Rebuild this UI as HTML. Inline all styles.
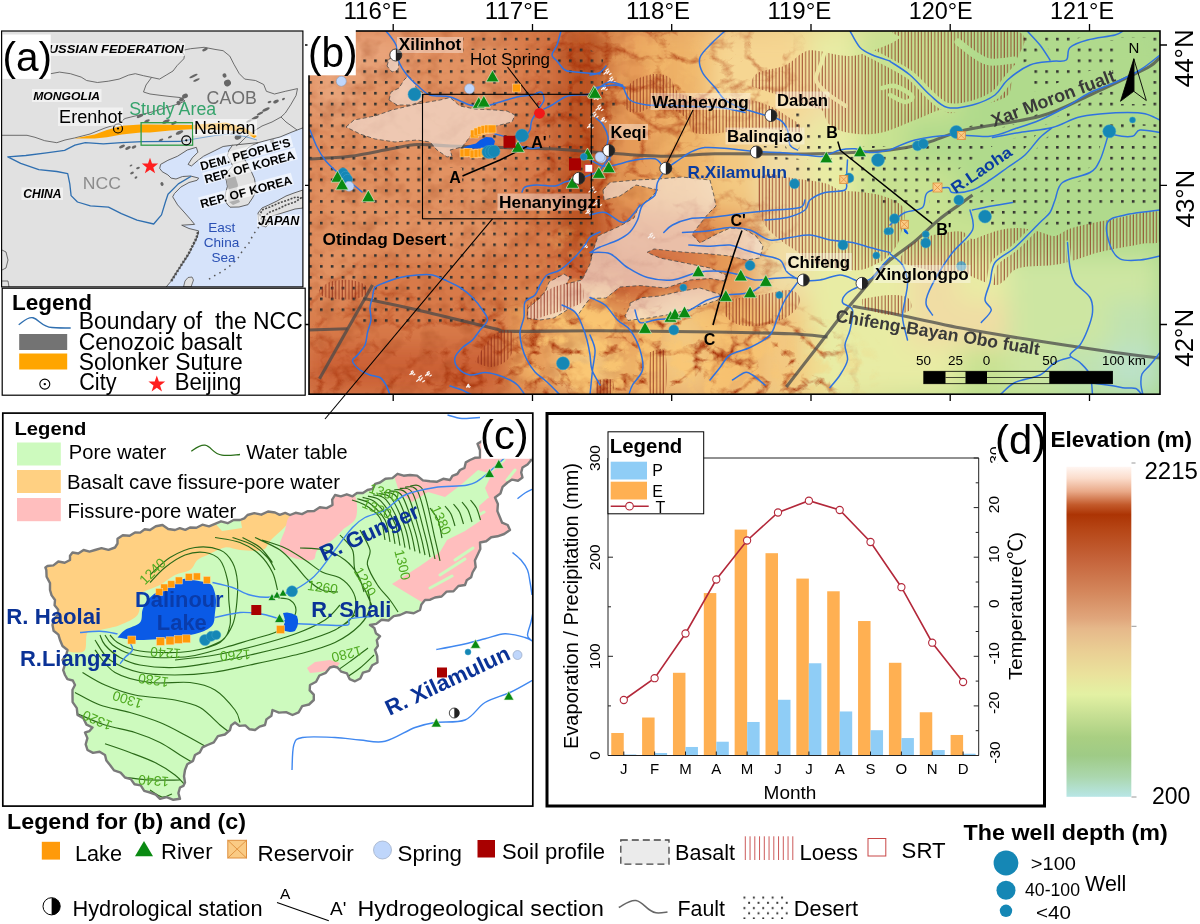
<!DOCTYPE html>
<html lang="en"><head><meta charset="utf-8"><title>Study area map</title>
<style>html,body{margin:0;padding:0;background:#fff}svg{display:block}text{font-family:"Liberation Sans", sans-serif}</style>
</head><body>
<svg width="1200" height="924" viewBox="0 0 1200 924">
<rect width="1200" height="924" fill="#fff"/>
<defs>
<clipPath id="clipB"><rect x="309" y="31" width="851" height="363.2"/></clipPath>
<filter id="blur14" x="-30%" y="-30%" width="160%" height="160%"><feGaussianBlur stdDeviation="12"/></filter>
<filter id="blur6" x="-30%" y="-30%" width="160%" height="160%"><feGaussianBlur stdDeviation="5"/></filter>
<linearGradient id="baseB" x1="0" y1="0" x2="1" y2="0"><stop offset="0" stop-color="#D98252"/><stop offset="0.33" stop-color="#D27643"/><stop offset="0.5" stop-color="#EBBB7C"/><stop offset="0.62" stop-color="#E6DE96"/><stop offset="0.75" stop-color="#B9DE90"/><stop offset="1" stop-color="#AAD88F"/></linearGradient>
<pattern id="hatch" x="0.3" width="3.31" height="8" patternUnits="userSpaceOnUse"><rect x="0.6" y="0" width="0.85" height="8" fill="#8A2412" fill-opacity="0.9"/></pattern>
<pattern id="dotsL" x="320.0" y="37.77" width="10.825" height="10.825" patternUnits="userSpaceOnUse"><rect x="0" y="0" width="2.6" height="2.6" fill="#33322f"/></pattern>
<filter id="relief" x="0" y="0" width="100%" height="100%" color-interpolation-filters="sRGB"><feTurbulence type="turbulence" baseFrequency="0.028 0.034" numOctaves="4" seed="11"/><feColorMatrix type="matrix" values="0 0 0 0 0.66  0 0 0 0 0.21  0 0 0 0 0.05  -4.2 0 0 0 1.12"/></filter>
<filter id="reliefW" x="0" y="0" width="100%" height="100%" color-interpolation-filters="sRGB"><feTurbulence type="turbulence" baseFrequency="0.03 0.036" numOctaves="4" seed="5"/><feColorMatrix type="matrix" values="0 0 0 0 0.98  0 0 0 0 0.78  0 0 0 0 0.45  0 4.5 0 0 -1.1"/></filter>
<filter id="reliefS" x="0" y="0" width="100%" height="100%" color-interpolation-filters="sRGB"><feTurbulence type="fractalNoise" baseFrequency="0.05 0.06" numOctaves="3" seed="2"/><feColorMatrix type="matrix" values="0 0 0 0 0.55  0 0 0 0 0.2  0 0 0 0 0.05  2.2 0 0 0 -1.05"/></filter>
<mask id="maskD" maskUnits="userSpaceOnUse" x="300" y="20" width="880" height="390"><g filter="url(#blur14)"><rect x="300" y="20" width="880" height="390" fill="#000"/>
<ellipse cx="590" cy="140" rx="42" ry="150" fill="rgb(229,229,229)"/>
<ellipse cx="440" cy="365" rx="150" ry="55" fill="rgb(216,216,216)"/>
<ellipse cx="620" cy="355" rx="100" ry="55" fill="rgb(255,255,255)"/>
<ellipse cx="745" cy="368" rx="90" ry="45" fill="rgb(255,255,255)"/>
<ellipse cx="690" cy="250" rx="90" ry="60" fill="rgb(114,114,114)"/>
<ellipse cx="660" cy="75" rx="55" ry="55" fill="rgb(178,178,178)"/>
<ellipse cx="740" cy="70" rx="50" ry="40" fill="rgb(114,114,114)"/>
<ellipse cx="370" cy="330" rx="80" ry="60" fill="rgb(114,114,114)"/>
<ellipse cx="420" cy="170" rx="130" ry="110" fill="rgb(30,30,30)"/>
<ellipse cx="650" cy="150" rx="40" ry="30" fill="rgb(153,153,153)"/>
</g></mask>
<mask id="maskW" maskUnits="userSpaceOnUse" x="300" y="20" width="880" height="390"><g filter="url(#blur14)"><rect x="300" y="20" width="880" height="390" fill="#000"/>
<ellipse cx="600" cy="345" rx="70" ry="50" fill="rgb(229,229,229)"/>
<ellipse cx="700" cy="360" rx="70" ry="40" fill="rgb(178,178,178)"/>
<ellipse cx="660" cy="60" rx="35" ry="40" fill="rgb(89,89,89)"/>
<ellipse cx="560" cy="250" rx="20" ry="40" fill="rgb(76,76,76)"/>
<ellipse cx="820" cy="370" rx="50" ry="30" fill="rgb(76,76,76)"/>
</g></mask>
<mask id="maskS" maskUnits="userSpaceOnUse" x="300" y="20" width="880" height="390"><g filter="url(#blur14)"><rect x="300" y="20" width="880" height="390" fill="#000"/>
<ellipse cx="430" cy="210" rx="170" ry="220" fill="rgb(229,229,229)"/>
<ellipse cx="600" cy="200" rx="60" ry="200" fill="rgb(153,153,153)"/>
</g></mask>
</defs>
<g id="panel-b">
<g clip-path="url(#clipB)">
<rect x="309" y="31" width="851" height="363.2" fill="url(#baseB)"/>
<g filter="url(#blur14)">
<rect x="308.0" y="30.0" width="52.0" height="47.2" fill="#E9A47A"/>
<rect x="358.0" y="30.0" width="52.0" height="47.2" fill="#E9A47A"/>
<rect x="408.0" y="30.0" width="52.0" height="47.2" fill="#E29262"/>
<rect x="458.0" y="30.0" width="52.0" height="47.2" fill="#E29262"/>
<rect x="508.0" y="30.0" width="52.0" height="47.2" fill="#D87A49"/>
<rect x="558.0" y="30.0" width="52.0" height="47.2" fill="#BC5224"/>
<rect x="608.0" y="30.0" width="52.0" height="47.2" fill="#E69B58"/>
<rect x="658.0" y="30.0" width="52.0" height="47.2" fill="#EEB268"/>
<rect x="708.0" y="30.0" width="52.0" height="47.2" fill="#F6D692"/>
<rect x="758.0" y="30.0" width="52.0" height="47.2" fill="#F6D692"/>
<rect x="808.0" y="30.0" width="52.0" height="47.2" fill="#E8ECA4"/>
<rect x="858.0" y="30.0" width="52.0" height="47.2" fill="#C8E292"/>
<rect x="908.0" y="30.0" width="52.0" height="47.2" fill="#C8E292"/>
<rect x="958.0" y="30.0" width="52.0" height="47.2" fill="#B0DA8C"/>
<rect x="1008.0" y="30.0" width="52.0" height="47.2" fill="#B0DA8C"/>
<rect x="1058.0" y="30.0" width="52.0" height="47.2" fill="#B0DA8C"/>
<rect x="1108.0" y="30.0" width="52.0" height="47.2" fill="#B0DA8C"/>
<rect x="308.0" y="75.2" width="52.0" height="47.2" fill="#E9A47A"/>
<rect x="358.0" y="75.2" width="52.0" height="47.2" fill="#E29262"/>
<rect x="408.0" y="75.2" width="52.0" height="47.2" fill="#E29262"/>
<rect x="458.0" y="75.2" width="52.0" height="47.2" fill="#E29262"/>
<rect x="508.0" y="75.2" width="52.0" height="47.2" fill="#D87A49"/>
<rect x="558.0" y="75.2" width="52.0" height="47.2" fill="#BC5224"/>
<rect x="608.0" y="75.2" width="52.0" height="47.2" fill="#E69B58"/>
<rect x="658.0" y="75.2" width="52.0" height="47.2" fill="#EEB268"/>
<rect x="708.0" y="75.2" width="52.0" height="47.2" fill="#F6D692"/>
<rect x="758.0" y="75.2" width="52.0" height="47.2" fill="#F6D692"/>
<rect x="808.0" y="75.2" width="52.0" height="47.2" fill="#F0DDA4"/>
<rect x="858.0" y="75.2" width="52.0" height="47.2" fill="#C8E292"/>
<rect x="908.0" y="75.2" width="52.0" height="47.2" fill="#C8E292"/>
<rect x="958.0" y="75.2" width="52.0" height="47.2" fill="#B0DA8C"/>
<rect x="1008.0" y="75.2" width="52.0" height="47.2" fill="#B0DA8C"/>
<rect x="1058.0" y="75.2" width="52.0" height="47.2" fill="#B0DA8C"/>
<rect x="1108.0" y="75.2" width="52.0" height="47.2" fill="#B0DA8C"/>
<rect x="308.0" y="120.4" width="52.0" height="47.2" fill="#E29262"/>
<rect x="358.0" y="120.4" width="52.0" height="47.2" fill="#E29262"/>
<rect x="408.0" y="120.4" width="52.0" height="47.2" fill="#E29262"/>
<rect x="458.0" y="120.4" width="52.0" height="47.2" fill="#E29262"/>
<rect x="508.0" y="120.4" width="52.0" height="47.2" fill="#D87A49"/>
<rect x="558.0" y="120.4" width="52.0" height="47.2" fill="#BC5224"/>
<rect x="608.0" y="120.4" width="52.0" height="47.2" fill="#E69B58"/>
<rect x="658.0" y="120.4" width="52.0" height="47.2" fill="#EEB268"/>
<rect x="708.0" y="120.4" width="52.0" height="47.2" fill="#F3C880"/>
<rect x="758.0" y="120.4" width="52.0" height="47.2" fill="#F0DDA4"/>
<rect x="808.0" y="120.4" width="52.0" height="47.2" fill="#E8ECA4"/>
<rect x="858.0" y="120.4" width="52.0" height="47.2" fill="#C8E292"/>
<rect x="908.0" y="120.4" width="52.0" height="47.2" fill="#B0DA8C"/>
<rect x="958.0" y="120.4" width="52.0" height="47.2" fill="#B0DA8C"/>
<rect x="1008.0" y="120.4" width="52.0" height="47.2" fill="#B0DA8C"/>
<rect x="1058.0" y="120.4" width="52.0" height="47.2" fill="#B0DA8C"/>
<rect x="1108.0" y="120.4" width="52.0" height="47.2" fill="#B0DA8C"/>
<rect x="308.0" y="165.6" width="52.0" height="47.2" fill="#E29262"/>
<rect x="358.0" y="165.6" width="52.0" height="47.2" fill="#E29262"/>
<rect x="408.0" y="165.6" width="52.0" height="47.2" fill="#E29262"/>
<rect x="458.0" y="165.6" width="52.0" height="47.2" fill="#E29262"/>
<rect x="508.0" y="165.6" width="52.0" height="47.2" fill="#D87A49"/>
<rect x="558.0" y="165.6" width="52.0" height="47.2" fill="#BC5224"/>
<rect x="608.0" y="165.6" width="52.0" height="47.2" fill="#E69B58"/>
<rect x="658.0" y="165.6" width="52.0" height="47.2" fill="#EEB268"/>
<rect x="708.0" y="165.6" width="52.0" height="47.2" fill="#F3C880"/>
<rect x="758.0" y="165.6" width="52.0" height="47.2" fill="#F0DDA4"/>
<rect x="808.0" y="165.6" width="52.0" height="47.2" fill="#E8ECA4"/>
<rect x="858.0" y="165.6" width="52.0" height="47.2" fill="#C8E292"/>
<rect x="908.0" y="165.6" width="52.0" height="47.2" fill="#C8E292"/>
<rect x="958.0" y="165.6" width="52.0" height="47.2" fill="#B0DA8C"/>
<rect x="1008.0" y="165.6" width="52.0" height="47.2" fill="#B0DA8C"/>
<rect x="1058.0" y="165.6" width="52.0" height="47.2" fill="#B0DA8C"/>
<rect x="1108.0" y="165.6" width="52.0" height="47.2" fill="#B0DA8C"/>
<rect x="308.0" y="210.8" width="52.0" height="47.2" fill="#E29262"/>
<rect x="358.0" y="210.8" width="52.0" height="47.2" fill="#E29262"/>
<rect x="408.0" y="210.8" width="52.0" height="47.2" fill="#E29262"/>
<rect x="458.0" y="210.8" width="52.0" height="47.2" fill="#E29262"/>
<rect x="508.0" y="210.8" width="52.0" height="47.2" fill="#D87A49"/>
<rect x="558.0" y="210.8" width="52.0" height="47.2" fill="#BC5224"/>
<rect x="608.0" y="210.8" width="52.0" height="47.2" fill="#D87A49"/>
<rect x="658.0" y="210.8" width="52.0" height="47.2" fill="#D87A49"/>
<rect x="708.0" y="210.8" width="52.0" height="47.2" fill="#E69B58"/>
<rect x="758.0" y="210.8" width="52.0" height="47.2" fill="#F0DDA4"/>
<rect x="808.0" y="210.8" width="52.0" height="47.2" fill="#E8ECA4"/>
<rect x="858.0" y="210.8" width="52.0" height="47.2" fill="#C8E292"/>
<rect x="908.0" y="210.8" width="52.0" height="47.2" fill="#C8E292"/>
<rect x="958.0" y="210.8" width="52.0" height="47.2" fill="#C8E292"/>
<rect x="1008.0" y="210.8" width="52.0" height="47.2" fill="#B0DA8C"/>
<rect x="1058.0" y="210.8" width="52.0" height="47.2" fill="#B0DA8C"/>
<rect x="1108.0" y="210.8" width="52.0" height="47.2" fill="#B0DA8C"/>
<rect x="308.0" y="256.0" width="52.0" height="47.2" fill="#E29262"/>
<rect x="358.0" y="256.0" width="52.0" height="47.2" fill="#D87A49"/>
<rect x="408.0" y="256.0" width="52.0" height="47.2" fill="#D87A49"/>
<rect x="458.0" y="256.0" width="52.0" height="47.2" fill="#D87A49"/>
<rect x="508.0" y="256.0" width="52.0" height="47.2" fill="#D87A49"/>
<rect x="558.0" y="256.0" width="52.0" height="47.2" fill="#CB6034"/>
<rect x="608.0" y="256.0" width="52.0" height="47.2" fill="#CB6034"/>
<rect x="658.0" y="256.0" width="52.0" height="47.2" fill="#D87A49"/>
<rect x="708.0" y="256.0" width="52.0" height="47.2" fill="#E69B58"/>
<rect x="758.0" y="256.0" width="52.0" height="47.2" fill="#F0DDA4"/>
<rect x="808.0" y="256.0" width="52.0" height="47.2" fill="#E8ECA4"/>
<rect x="858.0" y="256.0" width="52.0" height="47.2" fill="#E8ECA4"/>
<rect x="908.0" y="256.0" width="52.0" height="47.2" fill="#F0DDA4"/>
<rect x="958.0" y="256.0" width="52.0" height="47.2" fill="#E8ECA4"/>
<rect x="1008.0" y="256.0" width="52.0" height="47.2" fill="#CDE6A2"/>
<rect x="1058.0" y="256.0" width="52.0" height="47.2" fill="#CDE6A2"/>
<rect x="1108.0" y="256.0" width="52.0" height="47.2" fill="#CDE6A2"/>
<rect x="308.0" y="301.2" width="52.0" height="47.2" fill="#D87A49"/>
<rect x="358.0" y="301.2" width="52.0" height="47.2" fill="#D87A49"/>
<rect x="408.0" y="301.2" width="52.0" height="47.2" fill="#D87A49"/>
<rect x="458.0" y="301.2" width="52.0" height="47.2" fill="#D87A49"/>
<rect x="508.0" y="301.2" width="52.0" height="47.2" fill="#E69B58"/>
<rect x="558.0" y="301.2" width="52.0" height="47.2" fill="#EEB268"/>
<rect x="608.0" y="301.2" width="52.0" height="47.2" fill="#E69B58"/>
<rect x="658.0" y="301.2" width="52.0" height="47.2" fill="#F3C880"/>
<rect x="708.0" y="301.2" width="52.0" height="47.2" fill="#EEB268"/>
<rect x="758.0" y="301.2" width="52.0" height="47.2" fill="#F3C880"/>
<rect x="808.0" y="301.2" width="52.0" height="47.2" fill="#E8ECA4"/>
<rect x="858.0" y="301.2" width="52.0" height="47.2" fill="#E8ECA4"/>
<rect x="908.0" y="301.2" width="52.0" height="47.2" fill="#F0DDA4"/>
<rect x="958.0" y="301.2" width="52.0" height="47.2" fill="#F0DDA4"/>
<rect x="1008.0" y="301.2" width="52.0" height="47.2" fill="#CDE6A2"/>
<rect x="1058.0" y="301.2" width="52.0" height="47.2" fill="#CDE6A2"/>
<rect x="1108.0" y="301.2" width="52.0" height="47.2" fill="#C0E2B0"/>
<rect x="308.0" y="346.4" width="52.0" height="47.2" fill="#CB6034"/>
<rect x="358.0" y="346.4" width="52.0" height="47.2" fill="#CB6034"/>
<rect x="408.0" y="346.4" width="52.0" height="47.2" fill="#CB6034"/>
<rect x="458.0" y="346.4" width="52.0" height="47.2" fill="#CB6034"/>
<rect x="508.0" y="346.4" width="52.0" height="47.2" fill="#E69B58"/>
<rect x="558.0" y="346.4" width="52.0" height="47.2" fill="#F3C880"/>
<rect x="608.0" y="346.4" width="52.0" height="47.2" fill="#EEB268"/>
<rect x="658.0" y="346.4" width="52.0" height="47.2" fill="#F3C880"/>
<rect x="708.0" y="346.4" width="52.0" height="47.2" fill="#EEB268"/>
<rect x="758.0" y="346.4" width="52.0" height="47.2" fill="#F3C880"/>
<rect x="808.0" y="346.4" width="52.0" height="47.2" fill="#E8ECA4"/>
<rect x="858.0" y="346.4" width="52.0" height="47.2" fill="#E8ECA4"/>
<rect x="908.0" y="346.4" width="52.0" height="47.2" fill="#E8ECA4"/>
<rect x="958.0" y="346.4" width="52.0" height="47.2" fill="#C8E292"/>
<rect x="1008.0" y="346.4" width="52.0" height="47.2" fill="#CDE6A2"/>
<rect x="1058.0" y="346.4" width="52.0" height="47.2" fill="#C0E2B0"/>
<rect x="1108.0" y="346.4" width="52.0" height="47.2" fill="#BCE2C8"/>
</g>
<g filter="url(#blur6)">
</g>
<rect x="309" y="31" width="851" height="363.2" filter="url(#reliefS)" opacity="0.35" mask="url(#maskS)"/>
<g mask="url(#maskD)"><rect x="309" y="31" width="851" height="363.2" filter="url(#relief)"/></g>
<g mask="url(#maskW)"><rect x="309" y="31" width="851" height="363.2" filter="url(#reliefW)"/></g>
<g fill="none" stroke="#fff" stroke-opacity="0.92" stroke-width="1.3" stroke-linecap="round">
<path d="M604.0 74.0l2.5 -2.2M607.0 73.5l2.0 -2.5M606.0 70.5l2.2 -1.5M609.5 74.5l1.5 -1.0M608.0 82.0l2.5 -2.2M611.0 81.5l2.0 -2.5M610.0 78.5l2.2 -1.5M613.5 82.5l1.5 -1.0M601.6 89.6l2.0 -1.8M604.0 89.2l1.6 -2.0M603.2 86.8l1.8 -1.2M606.0 90.0l1.2 -0.8M596.0 110.0l2.5 -2.2M599.0 109.5l2.0 -2.5M598.0 106.5l2.2 -1.5M601.5 110.5l1.5 -1.0M591.0 117.0l2.5 -2.2M594.0 116.5l2.0 -2.5M593.0 113.5l2.2 -1.5M596.5 117.5l1.5 -1.0M600.6 121.6l2.0 -1.8M603.0 121.2l1.6 -2.0M602.2 118.8l1.8 -1.2M605.0 122.0l1.2 -0.8M587.6 127.6l2.0 -1.8M590.0 127.2l1.6 -2.0M589.2 124.8l1.8 -1.2M592.0 128.0l1.2 -0.8M594.2 99.2l1.5 -1.3M596.0 98.9l1.2 -1.5M595.4 97.1l1.3 -0.9M597.5 99.5l0.9 -0.6M589.0 192.0l2.5 -2.2M592.0 191.5l2.0 -2.5M591.0 188.5l2.2 -1.5M594.5 192.5l1.5 -1.0M593.7 205.2l2.8 -2.4M597.0 204.7l2.2 -2.8M595.9 201.3l2.4 -1.7M599.8 205.8l1.7 -1.1M585.9 213.4l1.8 -1.5M588.0 213.1l1.4 -1.8M587.3 210.9l1.5 -1.0M589.8 213.8l1.0 -0.7M583.2 247.2l1.5 -1.3M585.0 246.9l1.2 -1.5M584.4 245.1l1.3 -0.9M586.5 247.5l0.9 -0.6M416.7 381.2l2.8 -2.4M420.0 380.6l2.2 -2.8M418.9 377.4l2.4 -1.7M422.8 381.8l1.7 -1.1M425.6 375.6l2.0 -1.8M428.0 375.2l1.6 -2.0M427.2 372.8l1.8 -1.2M430.0 376.0l1.2 -0.8M409.9 374.4l1.8 -1.5M412.0 374.1l1.4 -1.8M411.3 371.9l1.5 -1.0M413.8 374.8l1.0 -0.7M648.3 237.8l2.2 -2.0M651.0 237.3l1.8 -2.2M650.1 234.7l2.0 -1.4M653.2 238.2l1.4 -0.9M466.5 387.0l1.2 -1.1M468.0 386.8l1.0 -1.2M467.5 385.2l1.1 -0.8M469.2 387.2l0.8 -0.5"/>
</g>
<mask id="noBasalt" maskUnits="userSpaceOnUse" x="300" y="20" width="880" height="390"><rect x="300" y="20" width="880" height="390" fill="#fff"/>
<polygon points="346.0,127.0 354.0,120.0 375.0,116.0 392.0,110.0 417.0,104.0 440.0,100.0 450.0,97.5 460.0,106.0 475.0,109.0 495.0,110.0 507.0,111.0 515.0,115.0 512.0,122.0 500.0,125.0 492.0,127.0 485.0,130.0 472.0,134.0 466.0,142.0 462.0,147.0 450.0,150.0 452.0,156.0 447.0,157.0 437.0,150.0 430.0,142.0 417.0,140.0 395.0,142.0 375.0,139.0 360.0,134.0" fill="#000"/>
<polygon points="389.0,100.0 391.0,92.0 399.0,88.0 404.0,80.0 408.0,76.0 413.0,80.0 417.0,90.0 424.0,93.0 422.0,101.0 411.0,105.0 397.0,105.0" fill="#000"/>
<polygon points="387.0,66.0 389.0,59.0 394.0,57.0 399.0,62.0 398.0,70.0 392.0,72.0" fill="#000"/>
<polygon points="603.0,190.0 610.0,182.4 636.0,180.0 658.0,179.0 682.0,177.0 710.0,180.0 714.0,196.0 716.0,206.0 708.0,214.0 700.0,224.0 692.0,234.4 700.0,243.0 716.0,234.4 730.0,228.0 744.0,229.0 756.0,236.0 763.0,246.0 760.0,258.0 746.0,260.0 730.0,256.0 710.0,254.0 682.0,252.0 654.0,249.0 647.0,252.4 660.0,258.0 690.0,264.0 710.0,268.0 726.0,275.0 724.0,281.0 710.0,278.4 690.0,280.0 666.0,288.0 640.0,285.6 620.0,287.0 606.0,298.0 590.0,298.4 584.0,306.0 578.0,315.0 570.0,308.0 564.0,312.0 554.0,318.0 540.0,320.0 527.0,318.0 528.0,308.0 540.0,298.0 546.0,290.0 549.0,282.0 564.0,274.0 570.0,278.0 566.0,284.0 582.0,280.0 590.0,264.0 594.0,248.0 598.0,236.0 620.0,226.0 634.0,218.0 638.0,208.0 650.0,198.0 658.0,190.0 636.0,185.0 620.0,196.0 604.0,200.0" fill="#000"/>
<polygon points="630.0,303.0 642.0,297.6 660.0,296.0 682.0,291.0 700.0,288.0 720.0,294.4 718.0,300.0 694.0,308.0 670.0,314.4 646.0,318.4 628.0,320.4 625.0,316.0 630.0,306.0" fill="#000"/>
<rect x="320" y="229" width="129" height="20" fill="#000"/>
<rect x="397" y="36" width="66" height="17" fill="#000"/>
<rect x="468" y="50" width="84" height="18" fill="#000"/>
<rect x="497" y="192" width="94" height="19" fill="#000"/>
<rect x="447" y="168" width="15" height="17" fill="#000"/>
<rect x="529" y="133" width="20" height="17" fill="#000"/>
<rect x="608" y="123" width="40" height="17" fill="#000"/>
<rect x="725" y="127" width="80" height="17" fill="#000"/>
<rect x="824" y="124" width="14" height="17" fill="#000"/>
<rect x="934" y="221" width="17" height="17" fill="#000"/>
<rect x="990" y="110" width="136" height="22" fill="#000" transform="rotate(-20.7 990 132)"/>
<rect x="953" y="178" width="78" height="24" fill="#000" transform="rotate(-34.2 953 202)"/>
<rect x="1119" y="38" width="29" height="66" fill="#000"/>
<clipPath id="clipE"><rect x="700" y="20" width="480" height="390"/></clipPath>
<path d="M386.0 31.0C387.7 33.3 393.8 39.8 396.0 45.0C398.2 50.2 397.2 57.0 399.0 62.0C400.8 67.0 404.0 71.2 407.0 75.0C410.0 78.8 413.2 81.7 417.0 85.0C420.8 88.3 424.5 93.0 430.0 95.0C435.5 97.0 443.3 95.3 450.0 97.0C456.7 98.7 464.2 103.5 470.0 105.0C475.8 106.5 480.0 106.5 485.0 106.0C490.0 105.5 494.7 103.5 500.0 102.0C505.3 100.5 511.7 98.2 517.0 97.0C522.3 95.8 528.0 95.8 532.0 95.0C536.0 94.2 539.0 91.2 541.0 92.0C543.0 92.8 544.2 97.5 544.0 100.0C543.8 102.5 542.0 103.7 540.0 107.0C538.0 110.3 533.7 116.2 532.0 120.0C530.3 123.8 531.2 127.2 530.0 130.0C528.8 132.8 527.2 134.5 525.0 137.0C522.8 139.5 518.3 143.7 517.0 145.0M544.0 109.0C545.3 108.3 548.5 107.0 552.0 105.0C555.5 103.0 561.2 98.7 565.0 97.0C568.8 95.3 570.8 95.5 575.0 95.0C579.2 94.5 585.8 95.3 590.0 94.0C594.2 92.7 596.7 89.0 600.0 87.0C603.3 85.0 606.3 82.3 610.0 82.0C613.7 81.7 620.0 84.5 622.0 85.0M561.0 31.0C560.3 33.3 558.5 41.0 557.0 45.0C555.5 49.0 552.0 52.3 552.0 55.0C552.0 57.7 554.8 58.5 557.0 61.0C559.2 63.5 562.0 68.2 565.0 70.0C568.0 71.8 569.2 71.3 575.0 72.0C580.8 72.7 595.8 73.7 600.0 74.0M310.0 130.0C311.2 132.8 314.5 142.0 317.0 147.0C319.5 152.0 321.7 155.8 325.0 160.0C328.3 164.2 332.8 168.3 337.0 172.0C341.2 175.7 345.8 178.7 350.0 182.0C354.2 185.3 360.0 190.3 362.0 192.0M495.0 134.0C497.0 134.6 503.3 135.7 507.0 137.5C510.7 139.3 513.2 143.2 517.0 145.0C520.8 146.8 526.2 148.1 530.0 148.5C533.8 148.9 538.3 147.7 540.0 147.5M522.0 192.0C522.5 191.2 522.5 188.2 525.0 187.0C527.5 185.8 532.0 185.2 537.0 185.0C542.0 184.8 550.3 186.5 555.0 186.0C559.7 185.5 561.7 183.0 565.0 182.0C568.3 181.0 570.8 181.2 575.0 180.0C579.2 178.8 585.8 176.7 590.0 175.0C594.2 173.3 597.3 172.2 600.0 170.0C602.7 167.8 604.2 164.3 606.0 162.0C607.8 159.7 610.2 157.0 611.0 156.0M372.5 297.5C372.9 295.8 372.9 290.0 375.0 287.5C377.1 285.0 380.8 284.2 385.0 282.5C389.2 280.8 394.6 278.8 400.0 277.5C405.4 276.2 412.1 275.4 417.5 275.0C422.9 274.6 427.9 274.2 432.5 275.0C437.1 275.8 440.4 277.9 445.0 280.0C449.6 282.1 455.4 284.6 460.0 287.5C464.6 290.4 468.8 293.8 472.5 297.5C476.2 301.2 480.0 306.2 482.5 310.0C485.0 313.8 487.9 316.7 487.5 320.0C487.1 323.3 482.5 326.7 480.0 330.0C477.5 333.3 475.4 337.1 472.5 340.0C469.6 342.9 465.4 344.6 462.5 347.5C459.6 350.4 455.8 354.2 455.0 357.5C454.2 360.8 455.0 364.6 457.5 367.5C460.0 370.4 465.4 374.2 470.0 375.0C474.6 375.8 480.4 372.5 485.0 372.5C489.6 372.5 493.3 373.8 497.5 375.0C501.7 376.2 506.7 378.3 510.0 380.0C513.3 381.7 515.0 382.5 517.5 385.0C520.0 387.5 523.8 393.3 525.0 395.0M372.5 297.5C372.1 299.2 370.2 303.8 370.0 307.5C369.8 311.2 371.4 315.8 371.0 320.0C370.6 324.2 368.5 328.3 367.5 332.5C366.5 336.7 366.7 341.2 365.0 345.0C363.3 348.8 359.6 352.3 357.5 355.0C355.4 357.7 352.1 358.5 352.5 361.0C352.9 363.5 357.1 367.7 360.0 370.0C362.9 372.3 366.7 373.8 370.0 375.0C373.3 376.2 377.3 375.8 380.0 377.5C382.7 379.2 384.3 382.1 386.0 385.0C387.7 387.9 389.3 393.3 390.0 395.0M600.0 232.0C598.3 232.8 592.5 234.8 590.0 237.0C587.5 239.2 587.5 241.7 585.0 245.0C582.5 248.3 579.2 252.8 575.0 257.0C570.8 261.2 564.7 267.0 560.0 270.0C555.3 273.0 550.3 272.5 547.0 275.0C543.7 277.5 542.0 281.7 540.0 285.0C538.0 288.3 537.5 292.2 535.0 295.0C532.5 297.8 526.8 298.3 525.0 302.0C523.2 305.7 524.8 312.0 524.0 317.0C523.2 322.0 520.3 327.0 520.0 332.0C519.7 337.0 520.8 342.3 522.0 347.0C523.2 351.7 524.8 355.8 527.0 360.0C529.2 364.2 531.7 368.3 535.0 372.0C538.3 375.7 542.8 378.2 547.0 382.0C551.2 385.8 557.8 392.8 560.0 395.0M562.0 305.0C564.2 306.2 571.7 308.7 575.0 312.0C578.3 315.3 580.0 320.3 582.0 325.0C584.0 329.7 585.7 335.0 587.0 340.0C588.3 345.0 589.2 350.0 590.0 355.0C590.8 360.0 590.3 365.0 592.0 370.0C593.7 375.0 598.7 382.5 600.0 385.0M450.0 386.0C452.0 386.7 458.3 388.5 462.0 390.0C465.7 391.5 470.3 394.2 472.0 395.0M725.0 31.0C722.9 32.9 716.7 38.1 712.5 42.5C708.3 46.9 701.7 52.5 700.0 57.5C698.3 62.5 700.0 67.5 702.5 72.5C705.0 77.5 711.2 82.9 715.0 87.5C718.8 92.1 720.8 96.7 725.0 100.0C729.2 103.3 734.2 105.2 740.0 107.5C745.8 109.8 753.3 111.7 760.0 113.8C766.7 115.9 775.4 117.3 780.0 120.0C784.6 122.7 785.8 125.8 787.5 130.0C789.2 134.2 788.3 141.7 790.0 145.0C791.7 148.3 796.2 149.2 797.5 150.0M590.0 160.0C592.2 161.0 598.8 165.2 603.0 166.0C607.2 166.8 609.7 166.0 615.0 165.0C620.3 164.0 628.3 161.0 635.0 160.0C641.7 159.0 650.0 157.6 655.0 158.8C660.0 160.1 661.7 166.9 665.0 167.5C668.3 168.1 670.8 165.0 675.0 162.5C679.2 160.0 685.0 155.0 690.0 152.5C695.0 150.0 698.3 148.1 705.0 147.5C711.7 146.9 722.1 148.2 730.0 148.8C737.9 149.4 744.2 150.7 752.5 151.3C760.8 151.9 771.2 151.9 780.0 152.5C788.8 153.1 797.9 154.4 805.0 155.0C812.1 155.6 816.7 157.1 822.5 156.3C828.3 155.5 834.6 151.2 840.0 150.0C845.4 148.8 850.0 148.4 855.0 148.8C860.0 149.2 864.2 152.3 870.0 152.5C875.8 152.7 886.7 150.4 890.0 150.0M665.0 170.0C663.8 172.1 659.2 178.3 657.5 182.5C655.8 186.7 657.5 191.2 655.0 195.0C652.5 198.8 645.4 200.8 642.5 205.0C639.6 209.2 639.6 215.5 637.5 220.0C635.4 224.5 633.2 228.7 630.0 232.0C626.8 235.3 623.0 237.5 618.0 240.0C613.0 242.5 604.7 244.9 600.0 247.0C595.3 249.1 591.7 251.6 590.0 252.5M622.5 85.0C623.8 87.5 625.8 96.7 630.0 100.0C634.2 103.3 641.7 104.2 647.5 105.0C653.3 105.8 657.9 104.8 665.0 105.0C672.1 105.2 680.8 105.9 690.0 106.3C699.2 106.7 710.8 106.5 720.0 107.5C729.2 108.5 740.8 111.7 745.0 112.5M850.0 31.0C851.7 33.8 856.2 43.5 860.0 47.5C863.8 51.5 867.5 52.8 872.5 55.0C877.5 57.2 887.1 60.0 890.0 61.0M847.5 160.0C847.3 163.3 846.7 175.0 846.3 180.0C845.9 185.0 848.5 187.9 845.0 190.0C841.5 192.1 830.8 190.8 825.0 192.5C819.2 194.2 813.3 197.1 810.0 200.0C806.7 202.9 808.8 207.1 805.0 210.0C801.2 212.9 794.2 215.8 787.5 217.5C780.8 219.2 768.8 219.6 765.0 220.0M590.0 75.0C591.7 74.6 597.3 74.0 600.0 72.5C602.7 71.0 605.0 67.1 606.0 66.0M596.0 118.0C597.2 119.2 601.0 121.8 603.0 125.0C605.0 128.2 607.3 133.3 608.0 137.0C608.7 140.7 606.7 143.2 607.0 147.0C607.3 150.8 609.5 157.8 610.0 160.0M595.0 87.5C598.3 87.1 610.0 85.0 615.0 85.0C620.0 85.0 623.3 87.1 625.0 87.5M890.0 61.3C893.3 63.6 903.3 69.4 910.0 75.0C916.7 80.6 923.8 89.6 930.0 95.0C936.2 100.4 940.4 105.8 947.5 107.5C954.6 109.2 964.6 107.1 972.5 105.0C980.4 102.9 989.2 99.2 995.0 95.0C1000.8 90.8 1001.7 85.0 1007.5 80.0C1013.3 75.0 1022.5 68.1 1030.0 65.0C1037.5 61.9 1046.5 62.1 1052.5 61.3C1058.5 60.5 1063.4 62.3 1066.3 60.0C1069.2 57.7 1066.5 50.8 1070.0 47.5C1073.5 44.2 1080.0 42.1 1087.5 40.0C1095.0 37.9 1109.2 36.5 1115.0 35.0C1120.8 33.5 1121.2 31.9 1122.5 31.3M1027.5 31.3C1029.6 33.6 1036.2 40.2 1040.0 45.0C1043.8 49.8 1048.3 57.5 1050.0 60.0M890.0 150.0C894.2 148.3 904.6 142.5 915.0 140.0C925.4 137.5 940.0 135.6 952.5 135.0C965.0 134.4 979.6 137.3 990.0 136.3C1000.4 135.3 1006.7 131.5 1015.0 128.8C1023.3 126.1 1031.7 123.5 1040.0 120.0C1048.3 116.5 1056.7 112.1 1065.0 107.5C1073.3 102.9 1081.7 96.7 1090.0 92.5C1098.3 88.3 1106.7 86.2 1115.0 82.5C1123.3 78.8 1132.5 74.6 1140.0 70.0C1147.5 65.4 1156.7 57.5 1160.0 55.0M992.5 137.5C997.1 136.7 1010.0 134.2 1020.0 132.5C1030.0 130.8 1042.9 130.0 1052.5 127.5C1062.1 125.0 1069.2 119.8 1077.5 117.5C1085.8 115.2 1094.2 114.6 1102.5 113.8C1110.8 113.0 1120.4 112.5 1127.5 112.5C1134.6 112.5 1139.6 112.5 1145.0 113.8C1150.4 115.0 1157.5 119.0 1160.0 120.0M1107.5 137.5C1106.2 141.2 1102.9 154.2 1100.0 160.0C1097.1 165.8 1096.2 168.8 1090.0 172.5C1083.8 176.2 1068.3 177.9 1062.5 182.5C1056.7 187.1 1057.1 195.0 1055.0 200.0C1052.9 205.0 1052.5 208.8 1050.0 212.5C1047.5 216.2 1045.8 216.7 1040.0 222.5C1034.2 228.3 1022.5 240.8 1015.0 247.5C1007.5 254.2 999.2 256.7 995.0 262.5C990.8 268.3 991.7 276.2 990.0 282.5C988.3 288.8 984.8 295.4 985.0 300.0C985.2 304.6 991.9 306.2 991.3 310.0C990.7 313.8 983.0 320.4 981.3 322.5M1109.0 131.0C1110.0 131.7 1111.1 134.1 1115.0 135.0C1118.9 135.9 1128.3 137.1 1132.5 136.3C1136.7 135.5 1135.4 130.6 1140.0 130.0C1144.6 129.4 1156.7 132.1 1160.0 132.5M1052.5 127.5C1050.4 129.2 1044.6 132.9 1040.0 137.5C1035.4 142.1 1030.4 150.0 1025.0 155.0C1019.6 160.0 1013.3 163.3 1007.5 167.5C1001.7 171.7 995.8 176.2 990.0 180.0C984.2 183.8 978.8 187.9 972.5 190.0C966.2 192.1 956.7 192.9 952.5 192.5C948.3 192.1 951.7 187.5 947.5 187.5C943.3 187.5 931.7 189.2 927.5 192.5C923.3 195.8 926.2 204.2 922.5 207.5C918.8 210.8 909.6 210.4 905.0 212.5C900.4 214.6 897.5 217.9 895.0 220.0C892.5 222.1 890.8 224.2 890.0 225.0M972.5 210.0C975.4 209.4 983.3 207.6 990.0 206.3C996.7 205.1 1008.8 203.1 1012.5 202.5M970.0 210.0C970.4 213.3 975.4 222.9 972.5 230.0C969.6 237.1 958.3 245.0 952.5 252.5C946.7 260.0 941.7 267.9 937.5 275.0C933.3 282.1 929.4 290.0 927.5 295.0C925.6 300.0 925.5 301.7 926.3 305.0C927.1 308.3 931.5 313.3 932.5 315.0M1160.0 210.0C1154.2 210.8 1133.8 212.9 1125.0 215.0C1116.2 217.1 1110.0 217.5 1107.5 222.5C1105.0 227.5 1107.9 238.9 1110.0 245.0C1112.1 251.1 1115.0 256.3 1120.0 258.8C1125.0 261.3 1133.3 260.5 1140.0 260.0C1146.7 259.5 1156.7 256.7 1160.0 256.0M1067.5 242.5C1067.9 246.7 1068.8 260.8 1070.0 267.5C1071.2 274.2 1071.7 277.5 1075.0 282.5C1078.3 287.5 1087.1 292.5 1090.0 297.5C1092.9 302.5 1092.9 307.1 1092.5 312.5C1092.1 317.9 1089.6 324.6 1087.5 330.0C1085.4 335.4 1082.9 340.8 1080.0 345.0C1077.1 349.2 1070.0 352.1 1070.0 355.0C1070.0 357.9 1076.7 359.2 1080.0 362.5C1083.3 365.8 1087.9 369.6 1090.0 375.0C1092.1 380.4 1092.1 391.7 1092.5 395.0M1000.0 395.0C1002.5 392.9 1008.3 385.8 1015.0 382.5C1021.7 379.2 1033.3 378.3 1040.0 375.0C1046.7 371.7 1050.0 365.4 1055.0 362.5C1060.0 359.6 1067.5 358.3 1070.0 357.5M1160.0 352.5C1158.3 354.6 1153.0 361.4 1150.0 365.0C1147.0 368.6 1143.5 370.7 1142.0 374.0C1140.5 377.3 1140.8 381.5 1141.0 385.0C1141.2 388.5 1142.7 393.3 1143.0 395.0M1092.0 383.0C1095.4 383.5 1107.0 385.0 1112.5 385.8C1118.0 386.6 1121.1 387.6 1125.0 388.0C1128.9 388.4 1133.0 387.3 1135.8 388.5C1138.6 389.7 1141.0 393.9 1142.0 395.0M890.0 253.8C892.1 255.7 899.6 260.2 902.5 265.0C905.4 269.8 907.1 276.7 907.5 282.5C907.9 288.3 905.8 294.2 905.0 300.0C904.2 305.8 902.1 310.8 902.5 317.5C902.9 324.2 906.7 336.2 907.5 340.0M805.0 200.0C804.2 201.2 805.0 205.8 800.0 207.5C795.0 209.2 783.3 209.2 775.0 210.0C766.7 210.8 757.5 211.7 750.0 212.5C742.5 213.3 736.7 214.2 730.0 215.0C723.3 215.8 716.7 216.9 710.0 217.5C703.3 218.1 696.2 217.6 690.0 218.8C683.8 220.1 676.9 222.7 672.5 225.0C668.1 227.3 665.2 231.2 663.8 232.5M682.5 232.5C686.2 232.3 697.1 232.1 705.0 231.3C712.9 230.5 722.5 227.7 730.0 227.5C737.5 227.3 743.3 227.9 750.0 230.0C756.7 232.1 763.3 238.8 770.0 240.0C776.7 241.2 783.3 238.3 790.0 237.5C796.7 236.7 803.3 234.6 810.0 235.0C816.7 235.4 822.9 238.8 830.0 240.0C837.1 241.2 845.8 241.2 852.5 242.5C859.2 243.8 863.8 245.8 870.0 247.5C876.2 249.2 886.7 251.7 890.0 252.5M688.8 245.0C692.3 245.2 703.1 246.3 710.0 246.3C716.9 246.3 724.2 244.4 730.0 245.0C735.8 245.6 739.6 248.3 745.0 250.0C750.4 251.7 756.7 253.3 762.5 255.0C768.3 256.7 775.8 257.1 780.0 260.0C784.2 262.9 783.8 269.2 787.5 272.5C791.2 275.8 797.1 278.8 802.5 280.0C807.9 281.2 813.8 280.8 820.0 280.0C826.2 279.2 834.2 275.0 840.0 275.0C845.8 275.0 851.2 278.5 855.0 280.0C858.8 281.5 861.2 283.2 862.5 283.8M590.0 252.5C593.3 252.7 603.8 251.3 610.0 253.8C616.2 256.3 621.2 263.6 627.5 267.5C633.8 271.4 640.0 275.4 647.5 277.5C655.0 279.6 664.2 280.8 672.5 280.0C680.8 279.2 689.6 273.9 697.5 272.5C705.4 271.1 712.9 270.9 720.0 271.3C727.1 271.7 734.2 273.6 740.0 275.0C745.8 276.4 750.0 279.4 755.0 280.0C760.0 280.6 764.2 279.2 770.0 278.8C775.8 278.4 784.6 277.3 790.0 277.5C795.4 277.7 800.4 279.6 802.5 280.0M635.0 310.0C635.8 312.1 636.7 320.8 640.0 322.5C643.3 324.2 649.6 320.8 655.0 320.0C660.4 319.2 666.7 319.2 672.5 317.5C678.3 315.8 684.2 312.9 690.0 310.0C695.8 307.1 701.7 302.5 707.5 300.0C713.3 297.5 717.9 296.2 725.0 295.0C732.1 293.8 743.3 294.6 750.0 292.5C756.7 290.4 762.5 284.2 765.0 282.5M590.0 297.5C592.5 298.8 600.4 301.2 605.0 305.0C609.6 308.8 613.3 315.8 617.5 320.0C621.7 324.2 626.2 325.0 630.0 330.0C633.8 335.0 637.9 343.3 640.0 350.0C642.1 356.7 643.8 364.2 642.5 370.0C641.2 375.8 634.8 380.8 632.5 385.0C630.2 389.2 629.4 393.3 628.8 395.0M797.5 282.5C795.4 285.4 788.3 294.2 785.0 300.0C781.7 305.8 780.0 311.7 777.5 317.5C775.0 323.3 774.6 330.0 770.0 335.0C765.4 340.0 756.7 344.2 750.0 347.5C743.3 350.8 735.0 351.7 730.0 355.0C725.0 358.3 723.3 363.3 720.0 367.5C716.7 371.7 711.7 377.9 710.0 380.0M732.5 380.0C734.6 378.8 741.7 373.3 745.0 372.5C748.3 371.7 749.2 372.9 752.5 375.0C755.8 377.1 762.9 383.3 765.0 385.0M862.5 285.0C860.0 286.2 850.8 289.6 847.5 292.5C844.2 295.4 841.7 299.6 842.5 302.5C843.3 305.4 851.2 305.4 852.5 310.0C853.8 314.6 851.2 324.2 850.0 330.0C848.8 335.8 845.4 340.0 845.0 345.0C844.6 350.0 848.3 355.0 847.5 360.0C846.7 365.0 842.9 370.4 840.0 375.0C837.1 379.6 831.7 385.4 830.0 387.5M862.5 282.5C864.2 281.7 869.2 280.2 872.5 277.5C875.8 274.8 879.1 269.3 882.0 266.0C884.9 262.7 888.7 258.9 890.0 257.5M590.0 335.0C590.8 337.5 594.6 344.2 595.0 350.0C595.4 355.8 593.3 362.5 592.5 370.0C591.7 377.5 590.4 390.8 590.0 395.0M590.0 215.0C592.5 214.6 599.6 211.2 605.0 212.5C610.4 213.8 617.9 222.1 622.5 222.5C627.1 222.9 629.6 217.9 632.5 215.0C635.4 212.1 638.8 206.7 640.0 205.0" fill="none" stroke="#000" stroke-width="9" clip-path="url(#clipE)"/>
</mask>
<g mask="url(#noBasalt)">
<polygon points="309.0,78.0 360.0,78.0 360.0,56.0 396.0,56.0 396.0,45.0 431.0,45.0 431.0,34.5 556.0,34.5 556.0,45.0 580.0,45.0 603.0,56.0 603.0,98.0 618.0,98.0 618.0,110.0 596.0,110.0 596.0,272.0 585.0,283.0 560.0,293.0 528.0,303.0 518.0,314.0 486.0,324.0 361.0,324.0 361.0,314.0 309.0,314.0" fill="url(#dotsL)"/>
<polygon points="717.0,143.0 793.0,143.0 793.0,110.0 803.0,110.0 803.0,121.0 814.0,121.0 814.0,132.0 825.0,132.0 825.0,143.0 895.0,143.0 930.0,138.0 965.0,127.0 1000.0,120.0 1040.0,112.0 1030.0,100.0 1030.0,66.0 1020.0,66.0 1020.0,34.0 1160.0,34.0 1160.0,208.0 1095.0,208.0 1095.0,228.0 988.0,228.0 988.0,218.0 900.0,218.0 900.0,207.0 880.0,207.0 880.0,195.0 857.0,195.0 857.0,184.0 803.0,184.0 803.0,173.0 792.0,173.0 792.0,162.0 770.0,162.0 770.0,152.0 717.0,152.0" fill="url(#dotsL)"/>
</g>
<path d="M309.0 159.0C315.8 158.6 336.5 158.0 350.0 156.3C363.5 154.6 378.8 151.0 390.0 149.0C401.2 147.0 407.5 145.0 417.5 144.5C427.5 144.0 436.2 145.5 450.0 146.0C463.8 146.5 483.3 147.0 500.0 147.5C516.7 148.0 533.3 148.0 550.0 148.8C566.7 149.6 580.8 151.2 600.0 152.5C619.2 153.8 645.8 156.1 665.0 156.3C684.2 156.5 690.0 154.2 715.0 153.8C740.0 153.4 785.8 154.4 815.0 153.8C844.2 153.2 871.2 151.9 890.0 150.0C908.8 148.1 915.0 145.8 927.5 142.5C940.0 139.2 946.2 134.4 965.0 130.0C983.8 125.6 1019.2 122.1 1040.0 116.3C1060.8 110.5 1075.4 101.5 1090.0 95.0C1104.6 88.5 1117.5 82.3 1127.5 77.5C1137.5 72.7 1144.6 69.6 1150.0 66.3C1155.4 63.0 1158.3 59.0 1160.0 57.5" fill="none" stroke="#4a4a4a" stroke-opacity="0.75" stroke-width="3.1" stroke-linecap="butt"/>
<path d="M309.0 330.0L347.5 328.8" fill="none" stroke="#4a4a4a" stroke-opacity="0.75" stroke-width="3.1" stroke-linecap="butt"/>
<path d="M365.0 298.8C373.8 300.7 395.8 305.0 417.5 310.0C439.2 315.0 480.0 325.2 495.0 328.8C510.0 332.4 490.0 331.0 507.5 331.3C525.0 331.6 565.4 330.7 600.0 330.8C634.6 330.9 683.3 331.5 715.0 332.0C746.7 332.5 771.2 333.0 790.0 333.8C808.8 334.6 821.2 336.5 827.5 337.0" fill="none" stroke="#4a4a4a" stroke-opacity="0.75" stroke-width="3.1" stroke-linecap="butt"/>
<path d="M372.5 285.0L319.5 378.8" fill="none" stroke="#4a4a4a" stroke-opacity="0.75" stroke-width="3.1" stroke-linecap="butt"/>
<path d="M852.5 306.3C858.8 307.4 871.2 309.2 890.0 313.0C908.8 316.8 940.0 324.1 965.0 328.8C990.0 333.5 1015.0 337.4 1040.0 341.3C1065.0 345.2 1095.0 349.7 1115.0 352.5C1135.0 355.3 1152.5 357.1 1160.0 358.0" fill="none" stroke="#4a4a4a" stroke-opacity="0.75" stroke-width="3.1" stroke-linecap="butt"/>
<path d="M786.3 387.0C791.1 380.8 806.0 361.6 815.0 350.0C824.0 338.4 831.7 327.9 840.0 317.5C848.3 307.1 858.8 295.0 865.0 287.5C871.2 280.0 873.3 277.1 877.5 272.5C881.7 267.9 883.8 265.2 890.0 260.0C896.2 254.8 906.7 248.2 915.0 241.3C923.3 234.4 932.1 225.3 940.0 218.8C947.9 212.3 957.1 206.5 962.5 202.5C967.9 198.5 970.8 196.2 972.5 195.0" fill="none" stroke="#4a4a4a" stroke-opacity="0.75" stroke-width="3.1" stroke-linecap="butt"/>
<polygon points="346.0,127.0 354.0,120.0 375.0,116.0 392.0,110.0 417.0,104.0 440.0,100.0 450.0,97.5 460.0,106.0 475.0,109.0 495.0,110.0 507.0,111.0 515.0,115.0 512.0,122.0 500.0,125.0 492.0,127.0 485.0,130.0 472.0,134.0 466.0,142.0 462.0,147.0 450.0,150.0 452.0,156.0 447.0,157.0 437.0,150.0 430.0,142.0 417.0,140.0 395.0,142.0 375.0,139.0 360.0,134.0" fill="#F6EAE4" fill-opacity="0.62" stroke="#4a4a4a" stroke-width="0.8" stroke-dasharray="4 2.5" stroke-linejoin="round"/>
<polygon points="389.0,100.0 391.0,92.0 399.0,88.0 404.0,80.0 408.0,76.0 413.0,80.0 417.0,90.0 424.0,93.0 422.0,101.0 411.0,105.0 397.0,105.0" fill="#F6EAE4" fill-opacity="0.62" stroke="#4a4a4a" stroke-width="0.8" stroke-dasharray="4 2.5" stroke-linejoin="round"/>
<polygon points="387.0,66.0 389.0,59.0 394.0,57.0 399.0,62.0 398.0,70.0 392.0,72.0" fill="#F6EAE4" fill-opacity="0.62" stroke="#4a4a4a" stroke-width="0.8" stroke-dasharray="4 2.5" stroke-linejoin="round"/>
<polygon points="603.0,190.0 610.0,182.4 636.0,180.0 658.0,179.0 682.0,177.0 710.0,180.0 714.0,196.0 716.0,206.0 708.0,214.0 700.0,224.0 692.0,234.4 700.0,243.0 716.0,234.4 730.0,228.0 744.0,229.0 756.0,236.0 763.0,246.0 760.0,258.0 746.0,260.0 730.0,256.0 710.0,254.0 682.0,252.0 654.0,249.0 647.0,252.4 660.0,258.0 690.0,264.0 710.0,268.0 726.0,275.0 724.0,281.0 710.0,278.4 690.0,280.0 666.0,288.0 640.0,285.6 620.0,287.0 606.0,298.0 590.0,298.4 584.0,306.0 578.0,315.0 570.0,308.0 564.0,312.0 554.0,318.0 540.0,320.0 527.0,318.0 528.0,308.0 540.0,298.0 546.0,290.0 549.0,282.0 564.0,274.0 570.0,278.0 566.0,284.0 582.0,280.0 590.0,264.0 594.0,248.0 598.0,236.0 620.0,226.0 634.0,218.0 638.0,208.0 650.0,198.0 658.0,190.0 636.0,185.0 620.0,196.0 604.0,200.0" fill="#F6EAE4" fill-opacity="0.62" stroke="#4a4a4a" stroke-width="0.8" stroke-dasharray="4 2.5" stroke-linejoin="round"/>
<polygon points="630.0,303.0 642.0,297.6 660.0,296.0 682.0,291.0 700.0,288.0 720.0,294.4 718.0,300.0 694.0,308.0 670.0,314.4 646.0,318.4 628.0,320.4 625.0,316.0 630.0,306.0" fill="#F6EAE4" fill-opacity="0.62" stroke="#4a4a4a" stroke-width="0.8" stroke-dasharray="4 2.5" stroke-linejoin="round"/>
<mask id="loessMask" maskUnits="userSpaceOnUse" x="300" y="20" width="880" height="390"><rect x="300" y="20" width="880" height="390" fill="#000"/>
<path d="M624.0 106.0C625.0 102.3 626.5 89.0 630.0 84.0C633.5 79.0 640.3 77.7 645.0 76.0C649.7 74.3 653.8 73.7 658.0 74.0C662.2 74.3 667.0 75.3 670.0 78.0C673.0 80.7 673.3 87.0 676.0 90.0C678.7 93.0 682.0 94.7 686.0 96.0C690.0 97.3 692.7 97.7 700.0 98.0C707.3 98.3 721.7 97.7 730.0 98.0C738.3 98.3 743.3 98.7 750.0 100.0C756.7 101.3 763.3 103.0 770.0 106.0C776.7 109.0 785.0 114.8 790.0 118.0C795.0 121.2 798.3 122.7 800.0 125.0C801.7 127.3 803.3 131.2 800.0 132.0C796.7 132.8 788.3 130.7 780.0 130.0C771.7 129.3 760.0 127.5 750.0 128.0C740.0 128.5 729.2 132.2 720.0 133.0C710.8 133.8 700.3 134.8 695.0 133.0C689.7 131.2 690.5 125.3 688.0 122.0C685.5 118.7 683.8 115.3 680.0 113.0C676.2 110.7 669.2 109.2 665.0 108.0C660.8 106.8 659.2 105.3 655.0 106.0C650.8 106.7 644.2 111.0 640.0 112.0C635.8 113.0 632.7 113.0 630.0 112.0C627.3 111.0 625.0 107.0 624.0 106.0" fill="#fff"/>
<path d="M750.0 86.0C751.2 83.8 751.7 76.4 757.5 73.0C763.3 69.6 777.5 68.8 785.0 65.5C792.5 62.2 797.5 55.5 802.5 53.0C807.5 50.5 807.1 50.0 815.0 50.5C822.9 51.0 839.2 56.4 850.0 56.0C860.8 55.6 871.7 51.0 880.0 48.0C888.3 45.0 896.7 40.8 900.0 38.0C903.3 35.2 880.7 32.2 900.0 31.0C919.3 29.8 996.7 25.8 1016.0 31.0C1035.3 36.2 1016.7 53.8 1016.0 62.0C1015.3 70.2 1013.3 74.5 1012.0 80.0C1010.7 85.5 1011.7 91.2 1008.0 95.0C1004.3 98.8 999.3 100.0 990.0 103.0C980.7 106.0 960.3 111.8 952.0 113.0C943.7 114.2 946.2 108.8 940.0 110.0C933.8 111.2 925.0 116.2 915.0 120.0C905.0 123.8 890.8 130.8 880.0 133.0C869.2 135.2 858.3 134.3 850.0 133.0C841.7 131.7 834.7 128.8 830.0 125.0C825.3 121.2 824.5 112.8 822.0 110.0C819.5 107.2 818.3 109.2 815.0 108.0C811.7 106.8 808.7 105.3 802.0 103.0C795.3 100.7 783.7 96.8 775.0 94.0C766.3 91.2 754.2 87.3 750.0 86.0" fill="#fff"/>
<path d="M757.0 178.0C759.2 177.3 765.3 174.2 770.0 174.0C774.7 173.8 776.0 175.5 785.0 177.0C794.0 178.5 814.8 180.8 824.0 183.0C833.2 185.2 833.8 188.5 840.0 190.0C846.2 191.5 853.8 191.0 861.0 192.0C868.2 193.0 876.3 193.8 883.0 196.0C889.7 198.2 897.3 201.7 901.0 205.0C904.7 208.3 905.0 211.3 905.0 216.0C905.0 220.7 902.3 228.2 901.0 233.0C899.7 237.8 899.2 241.2 897.0 245.0C894.8 248.8 890.8 253.2 888.0 256.0C885.2 258.8 884.7 259.7 880.0 262.0C875.3 264.3 867.5 269.0 860.0 270.0C852.5 271.0 843.0 269.3 835.0 268.0C827.0 266.7 818.7 265.0 812.0 262.0C805.3 259.0 800.3 253.7 795.0 250.0C789.7 246.3 785.0 244.2 780.0 240.0C775.0 235.8 768.7 230.8 765.0 225.0C761.3 219.2 759.3 212.8 758.0 205.0C756.7 197.2 757.2 182.5 757.0 178.0" fill="#fff"/>
<path d="M725.0 300.0C730.8 299.2 749.2 296.7 760.0 295.0C770.8 293.3 783.3 289.2 790.0 290.0C796.7 290.8 800.0 295.8 800.0 300.0C800.0 304.2 795.8 310.8 790.0 315.0C784.2 319.2 773.3 323.3 765.0 325.0C756.7 326.7 746.7 326.7 740.0 325.0C733.3 323.3 727.5 319.2 725.0 315.0C722.5 310.8 725.0 302.5 725.0 300.0" fill="#fff"/>
<path d="M898.0 262.0C899.2 260.0 902.2 253.3 905.0 250.0C907.8 246.7 910.8 244.3 915.0 242.0C919.2 239.7 924.2 237.7 930.0 236.0C935.8 234.3 944.5 232.7 950.0 232.0C955.5 231.3 959.3 230.8 963.0 232.0C966.7 233.2 968.8 238.3 972.0 239.0C975.2 239.7 977.3 237.5 982.0 236.0C986.7 234.5 993.8 231.3 1000.0 230.0C1006.2 228.7 1012.3 227.7 1019.0 228.0C1025.7 228.3 1034.0 230.7 1040.0 232.0C1046.0 233.3 1049.7 236.7 1055.0 236.0C1060.3 235.3 1063.2 230.7 1072.0 228.0C1080.8 225.3 1093.2 222.7 1108.0 220.0C1122.8 217.3 1152.2 208.7 1161.0 212.0C1169.8 215.3 1164.3 234.7 1161.0 240.0C1157.7 245.3 1151.2 242.0 1141.0 244.0C1130.8 246.0 1113.5 248.7 1100.0 252.0C1086.5 255.3 1073.5 261.3 1060.0 264.0C1046.5 266.7 1028.2 265.3 1019.0 268.0C1009.8 270.7 1009.0 277.2 1005.0 280.0C1001.0 282.8 1000.0 285.3 995.0 285.0C990.0 284.7 980.5 280.2 975.0 278.0C969.5 275.8 967.8 273.0 962.0 272.0C956.2 271.0 947.0 272.7 940.0 272.0C933.0 271.3 926.7 269.7 920.0 268.0C913.3 266.3 905.0 264.7 900.0 262.0C895.0 259.3 890.3 252.0 890.0 252.0C889.7 252.0 896.7 260.3 898.0 262.0" fill="#fff"/>
<path d="M862.0 299.0C866.7 298.3 882.3 295.2 890.0 295.0C897.7 294.8 904.7 295.5 908.0 298.0C911.3 300.5 913.0 307.2 910.0 310.0C907.0 312.8 897.5 315.3 890.0 315.0C882.5 314.7 869.7 310.7 865.0 308.0C860.3 305.3 862.5 300.5 862.0 299.0" fill="#fff"/>
<path d="M319.0 290.0C320.8 288.7 324.8 283.7 330.0 282.0C335.2 280.3 344.2 279.5 350.0 280.0C355.8 280.5 362.0 282.8 365.0 285.0C368.0 287.2 369.7 290.7 368.0 293.0C366.3 295.3 360.5 298.0 355.0 299.0C349.5 300.0 340.5 299.5 335.0 299.0C329.5 298.5 324.7 297.5 322.0 296.0C319.3 294.5 319.5 291.0 319.0 290.0" fill="#fff"/>
<path d="M475.0 362.0C476.7 359.2 481.2 350.0 485.0 345.0C488.8 340.0 493.5 334.2 498.0 332.0C502.5 329.8 509.5 329.0 512.0 332.0C514.5 335.0 514.2 345.0 513.0 350.0C511.8 355.0 508.8 359.2 505.0 362.0C501.2 364.8 495.0 367.0 490.0 367.0C485.0 367.0 477.5 362.8 475.0 362.0" fill="#fff"/>
<path d="M527.0 305.0C530.0 302.8 539.5 295.3 545.0 292.0C550.5 288.7 554.2 286.5 560.0 285.0C565.8 283.5 576.2 280.5 580.0 283.0C583.8 285.5 584.7 295.8 583.0 300.0C581.3 304.2 575.8 305.5 570.0 308.0C564.2 310.5 555.0 313.0 548.0 315.0C541.0 317.0 531.5 321.7 528.0 320.0C524.5 318.3 527.2 307.5 527.0 305.0" fill="#fff"/>
<path d="M650.0 352.0C652.5 352.0 662.5 345.2 665.0 352.0C667.5 358.8 667.5 385.8 665.0 393.0C662.5 400.2 652.5 401.8 650.0 395.0C647.5 388.2 650.0 359.2 650.0 352.0" fill="#fff"/>
<path d="M597.0 380.0C599.5 380.0 609.5 377.8 612.0 380.0C614.5 382.2 614.5 390.5 612.0 393.0C609.5 395.5 599.5 397.2 597.0 395.0C594.5 392.8 597.0 382.5 597.0 380.0" fill="#fff"/>
<path d="M852.0 33.0C853.7 35.5 857.3 43.8 862.0 48.0C866.7 52.2 872.0 53.5 880.0 58.0C888.0 62.5 901.7 68.8 910.0 75.0C918.3 81.2 923.8 89.6 930.0 95.0C936.2 100.4 940.4 105.8 947.5 107.5C954.6 109.2 964.6 107.1 972.5 105.0C980.4 102.9 989.2 99.2 995.0 95.0C1000.8 90.8 1003.7 84.5 1007.5 80.0C1011.3 75.5 1016.2 70.0 1018.0 68.0" fill="none" stroke="#000" stroke-width="9" stroke-linecap="round"/>
<path d="M958.0 42.0C960.8 44.2 969.7 51.7 975.0 55.0C980.3 58.3 983.5 61.2 990.0 62.0C996.5 62.8 1010.0 60.3 1014.0 60.0" fill="none" stroke="#000" stroke-width="7" stroke-linecap="round"/>
<path d="M882.0 88.0C884.2 87.7 890.0 84.7 895.0 86.0C900.0 87.3 910.3 93.3 912.0 96.0C913.7 98.7 908.7 102.2 905.0 102.0C901.3 101.8 892.5 96.2 890.0 95.0" fill="none" stroke="#000" stroke-width="4.5" stroke-linecap="round"/>
<path d="M826.0 48.0C825.2 50.7 822.7 58.7 821.0 64.0C819.3 69.3 814.8 75.0 816.0 80.0C817.2 85.0 823.0 89.7 828.0 94.0C833.0 98.3 843.0 104.0 846.0 106.0" fill="none" stroke="#000" stroke-width="4" stroke-linecap="round"/>
<path d="M970.0 210.0C970.4 213.3 973.3 225.0 972.5 230.0C971.7 235.0 966.2 238.3 965.0 240.0" fill="none" stroke="#000" stroke-width="5" stroke-linecap="round"/>
<path d="M1050.0 212.5C1048.3 214.2 1045.8 216.7 1040.0 222.5C1034.2 228.3 1022.5 240.8 1015.0 247.5C1007.5 254.2 999.2 256.7 995.0 262.5C990.8 268.3 990.8 279.2 990.0 282.5" fill="none" stroke="#000" stroke-width="7" stroke-linecap="round"/>
<path d="M1067.5 242.5L1070.0 267.5" fill="none" stroke="#000" stroke-width="4" stroke-linecap="round"/>
</mask>
<rect x="309" y="31" width="851" height="363.2" fill="url(#hatch)" mask="url(#loessMask)"/>
<path d="M386.0 31.0C387.7 33.3 393.8 39.8 396.0 45.0C398.2 50.2 397.2 57.0 399.0 62.0C400.8 67.0 404.0 71.2 407.0 75.0C410.0 78.8 413.2 81.7 417.0 85.0C420.8 88.3 424.5 93.0 430.0 95.0C435.5 97.0 443.3 95.3 450.0 97.0C456.7 98.7 464.2 103.5 470.0 105.0C475.8 106.5 480.0 106.5 485.0 106.0C490.0 105.5 494.7 103.5 500.0 102.0C505.3 100.5 511.7 98.2 517.0 97.0C522.3 95.8 528.0 95.8 532.0 95.0C536.0 94.2 539.0 91.2 541.0 92.0C543.0 92.8 544.2 97.5 544.0 100.0C543.8 102.5 542.0 103.7 540.0 107.0C538.0 110.3 533.7 116.2 532.0 120.0C530.3 123.8 531.2 127.2 530.0 130.0C528.8 132.8 527.2 134.5 525.0 137.0C522.8 139.5 518.3 143.7 517.0 145.0M544.0 109.0C545.3 108.3 548.5 107.0 552.0 105.0C555.5 103.0 561.2 98.7 565.0 97.0C568.8 95.3 570.8 95.5 575.0 95.0C579.2 94.5 585.8 95.3 590.0 94.0C594.2 92.7 596.7 89.0 600.0 87.0C603.3 85.0 606.3 82.3 610.0 82.0C613.7 81.7 620.0 84.5 622.0 85.0M561.0 31.0C560.3 33.3 558.5 41.0 557.0 45.0C555.5 49.0 552.0 52.3 552.0 55.0C552.0 57.7 554.8 58.5 557.0 61.0C559.2 63.5 562.0 68.2 565.0 70.0C568.0 71.8 569.2 71.3 575.0 72.0C580.8 72.7 595.8 73.7 600.0 74.0M310.0 130.0C311.2 132.8 314.5 142.0 317.0 147.0C319.5 152.0 321.7 155.8 325.0 160.0C328.3 164.2 332.8 168.3 337.0 172.0C341.2 175.7 345.8 178.7 350.0 182.0C354.2 185.3 360.0 190.3 362.0 192.0M495.0 134.0C497.0 134.6 503.3 135.7 507.0 137.5C510.7 139.3 513.2 143.2 517.0 145.0C520.8 146.8 526.2 148.1 530.0 148.5C533.8 148.9 538.3 147.7 540.0 147.5M522.0 192.0C522.5 191.2 522.5 188.2 525.0 187.0C527.5 185.8 532.0 185.2 537.0 185.0C542.0 184.8 550.3 186.5 555.0 186.0C559.7 185.5 561.7 183.0 565.0 182.0C568.3 181.0 570.8 181.2 575.0 180.0C579.2 178.8 585.8 176.7 590.0 175.0C594.2 173.3 597.3 172.2 600.0 170.0C602.7 167.8 604.2 164.3 606.0 162.0C607.8 159.7 610.2 157.0 611.0 156.0M372.5 297.5C372.9 295.8 372.9 290.0 375.0 287.5C377.1 285.0 380.8 284.2 385.0 282.5C389.2 280.8 394.6 278.8 400.0 277.5C405.4 276.2 412.1 275.4 417.5 275.0C422.9 274.6 427.9 274.2 432.5 275.0C437.1 275.8 440.4 277.9 445.0 280.0C449.6 282.1 455.4 284.6 460.0 287.5C464.6 290.4 468.8 293.8 472.5 297.5C476.2 301.2 480.0 306.2 482.5 310.0C485.0 313.8 487.9 316.7 487.5 320.0C487.1 323.3 482.5 326.7 480.0 330.0C477.5 333.3 475.4 337.1 472.5 340.0C469.6 342.9 465.4 344.6 462.5 347.5C459.6 350.4 455.8 354.2 455.0 357.5C454.2 360.8 455.0 364.6 457.5 367.5C460.0 370.4 465.4 374.2 470.0 375.0C474.6 375.8 480.4 372.5 485.0 372.5C489.6 372.5 493.3 373.8 497.5 375.0C501.7 376.2 506.7 378.3 510.0 380.0C513.3 381.7 515.0 382.5 517.5 385.0C520.0 387.5 523.8 393.3 525.0 395.0M372.5 297.5C372.1 299.2 370.2 303.8 370.0 307.5C369.8 311.2 371.4 315.8 371.0 320.0C370.6 324.2 368.5 328.3 367.5 332.5C366.5 336.7 366.7 341.2 365.0 345.0C363.3 348.8 359.6 352.3 357.5 355.0C355.4 357.7 352.1 358.5 352.5 361.0C352.9 363.5 357.1 367.7 360.0 370.0C362.9 372.3 366.7 373.8 370.0 375.0C373.3 376.2 377.3 375.8 380.0 377.5C382.7 379.2 384.3 382.1 386.0 385.0C387.7 387.9 389.3 393.3 390.0 395.0M600.0 232.0C598.3 232.8 592.5 234.8 590.0 237.0C587.5 239.2 587.5 241.7 585.0 245.0C582.5 248.3 579.2 252.8 575.0 257.0C570.8 261.2 564.7 267.0 560.0 270.0C555.3 273.0 550.3 272.5 547.0 275.0C543.7 277.5 542.0 281.7 540.0 285.0C538.0 288.3 537.5 292.2 535.0 295.0C532.5 297.8 526.8 298.3 525.0 302.0C523.2 305.7 524.8 312.0 524.0 317.0C523.2 322.0 520.3 327.0 520.0 332.0C519.7 337.0 520.8 342.3 522.0 347.0C523.2 351.7 524.8 355.8 527.0 360.0C529.2 364.2 531.7 368.3 535.0 372.0C538.3 375.7 542.8 378.2 547.0 382.0C551.2 385.8 557.8 392.8 560.0 395.0M562.0 305.0C564.2 306.2 571.7 308.7 575.0 312.0C578.3 315.3 580.0 320.3 582.0 325.0C584.0 329.7 585.7 335.0 587.0 340.0C588.3 345.0 589.2 350.0 590.0 355.0C590.8 360.0 590.3 365.0 592.0 370.0C593.7 375.0 598.7 382.5 600.0 385.0M450.0 386.0C452.0 386.7 458.3 388.5 462.0 390.0C465.7 391.5 470.3 394.2 472.0 395.0M725.0 31.0C722.9 32.9 716.7 38.1 712.5 42.5C708.3 46.9 701.7 52.5 700.0 57.5C698.3 62.5 700.0 67.5 702.5 72.5C705.0 77.5 711.2 82.9 715.0 87.5C718.8 92.1 720.8 96.7 725.0 100.0C729.2 103.3 734.2 105.2 740.0 107.5C745.8 109.8 753.3 111.7 760.0 113.8C766.7 115.9 775.4 117.3 780.0 120.0C784.6 122.7 785.8 125.8 787.5 130.0C789.2 134.2 788.3 141.7 790.0 145.0C791.7 148.3 796.2 149.2 797.5 150.0M590.0 160.0C592.2 161.0 598.8 165.2 603.0 166.0C607.2 166.8 609.7 166.0 615.0 165.0C620.3 164.0 628.3 161.0 635.0 160.0C641.7 159.0 650.0 157.6 655.0 158.8C660.0 160.1 661.7 166.9 665.0 167.5C668.3 168.1 670.8 165.0 675.0 162.5C679.2 160.0 685.0 155.0 690.0 152.5C695.0 150.0 698.3 148.1 705.0 147.5C711.7 146.9 722.1 148.2 730.0 148.8C737.9 149.4 744.2 150.7 752.5 151.3C760.8 151.9 771.2 151.9 780.0 152.5C788.8 153.1 797.9 154.4 805.0 155.0C812.1 155.6 816.7 157.1 822.5 156.3C828.3 155.5 834.6 151.2 840.0 150.0C845.4 148.8 850.0 148.4 855.0 148.8C860.0 149.2 864.2 152.3 870.0 152.5C875.8 152.7 886.7 150.4 890.0 150.0M665.0 170.0C663.8 172.1 659.2 178.3 657.5 182.5C655.8 186.7 657.5 191.2 655.0 195.0C652.5 198.8 645.4 200.8 642.5 205.0C639.6 209.2 639.6 215.5 637.5 220.0C635.4 224.5 633.2 228.7 630.0 232.0C626.8 235.3 623.0 237.5 618.0 240.0C613.0 242.5 604.7 244.9 600.0 247.0C595.3 249.1 591.7 251.6 590.0 252.5M622.5 85.0C623.8 87.5 625.8 96.7 630.0 100.0C634.2 103.3 641.7 104.2 647.5 105.0C653.3 105.8 657.9 104.8 665.0 105.0C672.1 105.2 680.8 105.9 690.0 106.3C699.2 106.7 710.8 106.5 720.0 107.5C729.2 108.5 740.8 111.7 745.0 112.5M850.0 31.0C851.7 33.8 856.2 43.5 860.0 47.5C863.8 51.5 867.5 52.8 872.5 55.0C877.5 57.2 887.1 60.0 890.0 61.0M847.5 160.0C847.3 163.3 846.7 175.0 846.3 180.0C845.9 185.0 848.5 187.9 845.0 190.0C841.5 192.1 830.8 190.8 825.0 192.5C819.2 194.2 813.3 197.1 810.0 200.0C806.7 202.9 808.8 207.1 805.0 210.0C801.2 212.9 794.2 215.8 787.5 217.5C780.8 219.2 768.8 219.6 765.0 220.0M590.0 75.0C591.7 74.6 597.3 74.0 600.0 72.5C602.7 71.0 605.0 67.1 606.0 66.0M596.0 118.0C597.2 119.2 601.0 121.8 603.0 125.0C605.0 128.2 607.3 133.3 608.0 137.0C608.7 140.7 606.7 143.2 607.0 147.0C607.3 150.8 609.5 157.8 610.0 160.0M595.0 87.5C598.3 87.1 610.0 85.0 615.0 85.0C620.0 85.0 623.3 87.1 625.0 87.5M890.0 61.3C893.3 63.6 903.3 69.4 910.0 75.0C916.7 80.6 923.8 89.6 930.0 95.0C936.2 100.4 940.4 105.8 947.5 107.5C954.6 109.2 964.6 107.1 972.5 105.0C980.4 102.9 989.2 99.2 995.0 95.0C1000.8 90.8 1001.7 85.0 1007.5 80.0C1013.3 75.0 1022.5 68.1 1030.0 65.0C1037.5 61.9 1046.5 62.1 1052.5 61.3C1058.5 60.5 1063.4 62.3 1066.3 60.0C1069.2 57.7 1066.5 50.8 1070.0 47.5C1073.5 44.2 1080.0 42.1 1087.5 40.0C1095.0 37.9 1109.2 36.5 1115.0 35.0C1120.8 33.5 1121.2 31.9 1122.5 31.3M1027.5 31.3C1029.6 33.6 1036.2 40.2 1040.0 45.0C1043.8 49.8 1048.3 57.5 1050.0 60.0M890.0 150.0C894.2 148.3 904.6 142.5 915.0 140.0C925.4 137.5 940.0 135.6 952.5 135.0C965.0 134.4 979.6 137.3 990.0 136.3C1000.4 135.3 1006.7 131.5 1015.0 128.8C1023.3 126.1 1031.7 123.5 1040.0 120.0C1048.3 116.5 1056.7 112.1 1065.0 107.5C1073.3 102.9 1081.7 96.7 1090.0 92.5C1098.3 88.3 1106.7 86.2 1115.0 82.5C1123.3 78.8 1132.5 74.6 1140.0 70.0C1147.5 65.4 1156.7 57.5 1160.0 55.0M992.5 137.5C997.1 136.7 1010.0 134.2 1020.0 132.5C1030.0 130.8 1042.9 130.0 1052.5 127.5C1062.1 125.0 1069.2 119.8 1077.5 117.5C1085.8 115.2 1094.2 114.6 1102.5 113.8C1110.8 113.0 1120.4 112.5 1127.5 112.5C1134.6 112.5 1139.6 112.5 1145.0 113.8C1150.4 115.0 1157.5 119.0 1160.0 120.0M1107.5 137.5C1106.2 141.2 1102.9 154.2 1100.0 160.0C1097.1 165.8 1096.2 168.8 1090.0 172.5C1083.8 176.2 1068.3 177.9 1062.5 182.5C1056.7 187.1 1057.1 195.0 1055.0 200.0C1052.9 205.0 1052.5 208.8 1050.0 212.5C1047.5 216.2 1045.8 216.7 1040.0 222.5C1034.2 228.3 1022.5 240.8 1015.0 247.5C1007.5 254.2 999.2 256.7 995.0 262.5C990.8 268.3 991.7 276.2 990.0 282.5C988.3 288.8 984.8 295.4 985.0 300.0C985.2 304.6 991.9 306.2 991.3 310.0C990.7 313.8 983.0 320.4 981.3 322.5M1109.0 131.0C1110.0 131.7 1111.1 134.1 1115.0 135.0C1118.9 135.9 1128.3 137.1 1132.5 136.3C1136.7 135.5 1135.4 130.6 1140.0 130.0C1144.6 129.4 1156.7 132.1 1160.0 132.5M1052.5 127.5C1050.4 129.2 1044.6 132.9 1040.0 137.5C1035.4 142.1 1030.4 150.0 1025.0 155.0C1019.6 160.0 1013.3 163.3 1007.5 167.5C1001.7 171.7 995.8 176.2 990.0 180.0C984.2 183.8 978.8 187.9 972.5 190.0C966.2 192.1 956.7 192.9 952.5 192.5C948.3 192.1 951.7 187.5 947.5 187.5C943.3 187.5 931.7 189.2 927.5 192.5C923.3 195.8 926.2 204.2 922.5 207.5C918.8 210.8 909.6 210.4 905.0 212.5C900.4 214.6 897.5 217.9 895.0 220.0C892.5 222.1 890.8 224.2 890.0 225.0M972.5 210.0C975.4 209.4 983.3 207.6 990.0 206.3C996.7 205.1 1008.8 203.1 1012.5 202.5M970.0 210.0C970.4 213.3 975.4 222.9 972.5 230.0C969.6 237.1 958.3 245.0 952.5 252.5C946.7 260.0 941.7 267.9 937.5 275.0C933.3 282.1 929.4 290.0 927.5 295.0C925.6 300.0 925.5 301.7 926.3 305.0C927.1 308.3 931.5 313.3 932.5 315.0M1160.0 210.0C1154.2 210.8 1133.8 212.9 1125.0 215.0C1116.2 217.1 1110.0 217.5 1107.5 222.5C1105.0 227.5 1107.9 238.9 1110.0 245.0C1112.1 251.1 1115.0 256.3 1120.0 258.8C1125.0 261.3 1133.3 260.5 1140.0 260.0C1146.7 259.5 1156.7 256.7 1160.0 256.0M1067.5 242.5C1067.9 246.7 1068.8 260.8 1070.0 267.5C1071.2 274.2 1071.7 277.5 1075.0 282.5C1078.3 287.5 1087.1 292.5 1090.0 297.5C1092.9 302.5 1092.9 307.1 1092.5 312.5C1092.1 317.9 1089.6 324.6 1087.5 330.0C1085.4 335.4 1082.9 340.8 1080.0 345.0C1077.1 349.2 1070.0 352.1 1070.0 355.0C1070.0 357.9 1076.7 359.2 1080.0 362.5C1083.3 365.8 1087.9 369.6 1090.0 375.0C1092.1 380.4 1092.1 391.7 1092.5 395.0M1000.0 395.0C1002.5 392.9 1008.3 385.8 1015.0 382.5C1021.7 379.2 1033.3 378.3 1040.0 375.0C1046.7 371.7 1050.0 365.4 1055.0 362.5C1060.0 359.6 1067.5 358.3 1070.0 357.5M1160.0 352.5C1158.3 354.6 1153.0 361.4 1150.0 365.0C1147.0 368.6 1143.5 370.7 1142.0 374.0C1140.5 377.3 1140.8 381.5 1141.0 385.0C1141.2 388.5 1142.7 393.3 1143.0 395.0M1092.0 383.0C1095.4 383.5 1107.0 385.0 1112.5 385.8C1118.0 386.6 1121.1 387.6 1125.0 388.0C1128.9 388.4 1133.0 387.3 1135.8 388.5C1138.6 389.7 1141.0 393.9 1142.0 395.0M890.0 253.8C892.1 255.7 899.6 260.2 902.5 265.0C905.4 269.8 907.1 276.7 907.5 282.5C907.9 288.3 905.8 294.2 905.0 300.0C904.2 305.8 902.1 310.8 902.5 317.5C902.9 324.2 906.7 336.2 907.5 340.0M805.0 200.0C804.2 201.2 805.0 205.8 800.0 207.5C795.0 209.2 783.3 209.2 775.0 210.0C766.7 210.8 757.5 211.7 750.0 212.5C742.5 213.3 736.7 214.2 730.0 215.0C723.3 215.8 716.7 216.9 710.0 217.5C703.3 218.1 696.2 217.6 690.0 218.8C683.8 220.1 676.9 222.7 672.5 225.0C668.1 227.3 665.2 231.2 663.8 232.5M682.5 232.5C686.2 232.3 697.1 232.1 705.0 231.3C712.9 230.5 722.5 227.7 730.0 227.5C737.5 227.3 743.3 227.9 750.0 230.0C756.7 232.1 763.3 238.8 770.0 240.0C776.7 241.2 783.3 238.3 790.0 237.5C796.7 236.7 803.3 234.6 810.0 235.0C816.7 235.4 822.9 238.8 830.0 240.0C837.1 241.2 845.8 241.2 852.5 242.5C859.2 243.8 863.8 245.8 870.0 247.5C876.2 249.2 886.7 251.7 890.0 252.5M688.8 245.0C692.3 245.2 703.1 246.3 710.0 246.3C716.9 246.3 724.2 244.4 730.0 245.0C735.8 245.6 739.6 248.3 745.0 250.0C750.4 251.7 756.7 253.3 762.5 255.0C768.3 256.7 775.8 257.1 780.0 260.0C784.2 262.9 783.8 269.2 787.5 272.5C791.2 275.8 797.1 278.8 802.5 280.0C807.9 281.2 813.8 280.8 820.0 280.0C826.2 279.2 834.2 275.0 840.0 275.0C845.8 275.0 851.2 278.5 855.0 280.0C858.8 281.5 861.2 283.2 862.5 283.8M590.0 252.5C593.3 252.7 603.8 251.3 610.0 253.8C616.2 256.3 621.2 263.6 627.5 267.5C633.8 271.4 640.0 275.4 647.5 277.5C655.0 279.6 664.2 280.8 672.5 280.0C680.8 279.2 689.6 273.9 697.5 272.5C705.4 271.1 712.9 270.9 720.0 271.3C727.1 271.7 734.2 273.6 740.0 275.0C745.8 276.4 750.0 279.4 755.0 280.0C760.0 280.6 764.2 279.2 770.0 278.8C775.8 278.4 784.6 277.3 790.0 277.5C795.4 277.7 800.4 279.6 802.5 280.0M635.0 310.0C635.8 312.1 636.7 320.8 640.0 322.5C643.3 324.2 649.6 320.8 655.0 320.0C660.4 319.2 666.7 319.2 672.5 317.5C678.3 315.8 684.2 312.9 690.0 310.0C695.8 307.1 701.7 302.5 707.5 300.0C713.3 297.5 717.9 296.2 725.0 295.0C732.1 293.8 743.3 294.6 750.0 292.5C756.7 290.4 762.5 284.2 765.0 282.5M590.0 297.5C592.5 298.8 600.4 301.2 605.0 305.0C609.6 308.8 613.3 315.8 617.5 320.0C621.7 324.2 626.2 325.0 630.0 330.0C633.8 335.0 637.9 343.3 640.0 350.0C642.1 356.7 643.8 364.2 642.5 370.0C641.2 375.8 634.8 380.8 632.5 385.0C630.2 389.2 629.4 393.3 628.8 395.0M797.5 282.5C795.4 285.4 788.3 294.2 785.0 300.0C781.7 305.8 780.0 311.7 777.5 317.5C775.0 323.3 774.6 330.0 770.0 335.0C765.4 340.0 756.7 344.2 750.0 347.5C743.3 350.8 735.0 351.7 730.0 355.0C725.0 358.3 723.3 363.3 720.0 367.5C716.7 371.7 711.7 377.9 710.0 380.0M732.5 380.0C734.6 378.8 741.7 373.3 745.0 372.5C748.3 371.7 749.2 372.9 752.5 375.0C755.8 377.1 762.9 383.3 765.0 385.0M862.5 285.0C860.0 286.2 850.8 289.6 847.5 292.5C844.2 295.4 841.7 299.6 842.5 302.5C843.3 305.4 851.2 305.4 852.5 310.0C853.8 314.6 851.2 324.2 850.0 330.0C848.8 335.8 845.4 340.0 845.0 345.0C844.6 350.0 848.3 355.0 847.5 360.0C846.7 365.0 842.9 370.4 840.0 375.0C837.1 379.6 831.7 385.4 830.0 387.5M862.5 282.5C864.2 281.7 869.2 280.2 872.5 277.5C875.8 274.8 879.1 269.3 882.0 266.0C884.9 262.7 888.7 258.9 890.0 257.5M590.0 335.0C590.8 337.5 594.6 344.2 595.0 350.0C595.4 355.8 593.3 362.5 592.5 370.0C591.7 377.5 590.4 390.8 590.0 395.0M590.0 215.0C592.5 214.6 599.6 211.2 605.0 212.5C610.4 213.8 617.9 222.1 622.5 222.5C627.1 222.9 629.6 217.9 632.5 215.0C635.4 212.1 638.8 206.7 640.0 205.0" fill="none" stroke="#2F72E0" stroke-width="1.5" stroke-linejoin="round" stroke-linecap="round"/>
<path d="M463 147.6L470 145L476 143.5L480 140L486 137L492 137.5L495 141L494 145L488 147.5L480 148.6L470 148.6Z" fill="#0A5BE6"/>
<path d="M904 229q3 1 4 5q-4 -1 -4 -5z" fill="#0A5BE6" stroke="#0A5BE6"/>
</g>
<rect x="422.5" y="94.3" width="168.8" height="124.5" fill="none" stroke="#000" stroke-width="1.1"/>
<path d="M492.5 218.8L325 419" stroke="#000" stroke-width="1.1" fill="none"/>
<path d="M462.5 176L500 160L527 146.5" stroke="#000" stroke-width="1.5" fill="none"/>
<path d="M837.8 141.5L840.5 150.5L932.3 223.6" stroke="#000" stroke-width="1.5" fill="none" stroke-linejoin="round"/>
<path d="M742 230.5Q728 268 713 325" stroke="#000" stroke-width="1.6" fill="none"/>
<path d="M507.5 67L539.5 108.5" stroke="#000" stroke-width="1.1"/>
<path d="M693 110L666 165" stroke="#000" stroke-width="1.1"/>
<g clip-path="url(#clipB)"><rect x="470.5" y="130.0" width="8" height="8" fill="#FF9A0A" stroke="#FFD9A0" stroke-width="0.5"/><rect x="474.0" y="128.0" width="8" height="8" fill="#FF9A0A" stroke="#FFD9A0" stroke-width="0.5"/><rect x="477.5" y="126.5" width="8" height="8" fill="#FF9A0A" stroke="#FFD9A0" stroke-width="0.5"/><rect x="481.0" y="125.5" width="8" height="8" fill="#FF9A0A" stroke="#FFD9A0" stroke-width="0.5"/><rect x="484.5" y="125.0" width="8" height="8" fill="#FF9A0A" stroke="#FFD9A0" stroke-width="0.5"/><rect x="488.0" y="125.0" width="8" height="8" fill="#FF9A0A" stroke="#FFD9A0" stroke-width="0.5"/><rect x="460.0" y="149.0" width="8" height="8" fill="#FF9A0A" stroke="#FFD9A0" stroke-width="0.5"/><rect x="464.0" y="148.5" width="8" height="8" fill="#FF9A0A" stroke="#FFD9A0" stroke-width="0.5"/><rect x="470.0" y="150.0" width="8" height="8" fill="#FF9A0A" stroke="#FFD9A0" stroke-width="0.5"/><rect x="474.0" y="149.5" width="8" height="8" fill="#FF9A0A" stroke="#FFD9A0" stroke-width="0.5"/><rect x="478.0" y="149.0" width="8" height="8" fill="#FF9A0A" stroke="#FFD9A0" stroke-width="0.5"/><rect x="481.0" y="148.0" width="8" height="8" fill="#FF9A0A" stroke="#FFD9A0" stroke-width="0.5"/><rect x="512.7" y="84.0" width="8" height="8" fill="#FF9A0A" stroke="#FFD9A0" stroke-width="0.5"/><circle cx="343" cy="173" r="5" fill="#1587B5" stroke="#3FA3CC" stroke-width="0.5"/><circle cx="345.5" cy="176.3" r="5" fill="#1587B5" stroke="#3FA3CC" stroke-width="0.5"/><circle cx="347.5" cy="179.3" r="5" fill="#1587B5" stroke="#3FA3CC" stroke-width="0.5"/><circle cx="349" cy="186.3" r="5" fill="#BFD6FB" stroke="#8C9CB8" stroke-width="0.6"/><circle cx="341.3" cy="81.3" r="5" fill="#BFD6FB" stroke="#8C9CB8" stroke-width="0.6"/><circle cx="469.5" cy="88.8" r="5" fill="#BFD6FB" stroke="#8C9CB8" stroke-width="0.6"/><circle cx="601.3" cy="158" r="5" fill="#BFD6FB" stroke="#8C9CB8" stroke-width="0.6"/><circle cx="600" cy="157" r="5" fill="#BFD6FB" stroke="#8C9CB8" stroke-width="0.6"/><path d="M331.0 182.2L337.5 170.5L344.0 182.2Z" fill="#0A8A12" stroke="#E8F5E0" stroke-width="0.6"/><path d="M335.5 189.8L342.0 178.2L348.5 189.8Z" fill="#0A8A12" stroke="#E8F5E0" stroke-width="0.6"/><path d="M361.8 201.7L368.3 190.0L374.8 201.7Z" fill="#0A8A12" stroke="#E8F5E0" stroke-width="0.6"/><path d="M486.0 81.8L492.5 70.2L499.0 81.8Z" fill="#0A8A12" stroke="#E8F5E0" stroke-width="0.6"/><path d="M472.3 108.3L478.8 96.7L485.3 108.3Z" fill="#0A8A12" stroke="#E8F5E0" stroke-width="0.6"/><path d="M477.3 107.1L483.8 95.5L490.3 107.1Z" fill="#0A8A12" stroke="#E8F5E0" stroke-width="0.6"/><path d="M511.5 152.3L518.0 140.7L524.5 152.3Z" fill="#0A8A12" stroke="#E8F5E0" stroke-width="0.6"/><path d="M587.3 97.1L593.8 85.5L600.3 97.1Z" fill="#0A8A12" stroke="#E8F5E0" stroke-width="0.6"/><path d="M588.5 98.3L595.0 86.7L601.5 98.3Z" fill="#0A8A12" stroke="#E8F5E0" stroke-width="0.6"/><path d="M581.0 159.7L587.5 148.0L594.0 159.7Z" fill="#0A8A12" stroke="#E8F5E0" stroke-width="0.6"/><path d="M566.0 188.3L572.5 176.7L579.0 188.3Z" fill="#0A8A12" stroke="#E8F5E0" stroke-width="0.6"/><path d="M592.3 178.3L598.8 166.7L605.3 178.3Z" fill="#0A8A12" stroke="#E8F5E0" stroke-width="0.6"/><path d="M602.3 172.7L608.8 161.0L615.3 172.7Z" fill="#0A8A12" stroke="#E8F5E0" stroke-width="0.6"/><path d="M819.8 162.8L826.3 151.2L832.8 162.8Z" fill="#0A8A12" stroke="#E8F5E0" stroke-width="0.6"/><path d="M853.5 156.7L860.0 145.0L866.5 156.7Z" fill="#0A8A12" stroke="#E8F5E0" stroke-width="0.6"/><path d="M691.8 276.7L698.3 264.9L704.8 276.7Z" fill="#0A8A12" stroke="#E8F5E0" stroke-width="0.6"/><path d="M734.3 280.9L740.8 269.1L747.3 280.9Z" fill="#0A8A12" stroke="#E8F5E0" stroke-width="0.6"/><path d="M759.3 286.4L765.8 274.6L772.3 286.4Z" fill="#0A8A12" stroke="#E8F5E0" stroke-width="0.6"/><path d="M743.5 297.7L750.0 285.9L756.5 297.7Z" fill="#0A8A12" stroke="#E8F5E0" stroke-width="0.6"/><path d="M719.3 301.4L725.8 289.6L732.3 301.4Z" fill="#0A8A12" stroke="#E8F5E0" stroke-width="0.6"/><path d="M664.0 322.2L670.5 310.4L677.0 322.2Z" fill="#0A8A12" stroke="#E8F5E0" stroke-width="0.6"/><path d="M668.5 319.7L675.0 307.9L681.5 319.7Z" fill="#0A8A12" stroke="#E8F5E0" stroke-width="0.6"/><path d="M678.0 317.7L684.5 305.9L691.0 317.7Z" fill="#0A8A12" stroke="#E8F5E0" stroke-width="0.6"/><path d="M638.5 333.4L645.0 321.6L651.5 333.4Z" fill="#0A8A12" stroke="#E8F5E0" stroke-width="0.6"/><rect x="503.5" y="135.8" width="12" height="12" fill="#A80000"/><rect x="569.0" y="158.3" width="12" height="12" fill="#A80000"/><rect x="584.8" y="164.3" width="8" height="8" fill="#fff" stroke="#D03030" stroke-width="1"/><circle cx="414.5" cy="94.3" r="6.5" fill="#1587B5" stroke="#3FA3CC" stroke-width="0.5"/><circle cx="522" cy="135.5" r="6.5" fill="#1587B5" stroke="#3FA3CC" stroke-width="0.5"/><circle cx="488.5" cy="152" r="6.5" fill="#1587B5" stroke="#3FA3CC" stroke-width="0.5"/><circle cx="491.5" cy="151.7" r="6.5" fill="#1587B5" stroke="#3FA3CC" stroke-width="0.5"/><circle cx="494" cy="151.3" r="6" fill="#1587B5" stroke="#3FA3CC" stroke-width="0.5"/><circle cx="583.8" cy="156.8" r="3.5" fill="#1587B5" stroke="#3FA3CC" stroke-width="0.5"/><circle cx="563" cy="363.3" r="6.5" fill="#1587B5" stroke="#3FA3CC" stroke-width="0.5"/><circle cx="878" cy="160" r="6.5" fill="#1587B5" stroke="#3FA3CC" stroke-width="0.5"/><circle cx="848.8" cy="178" r="5" fill="#1587B5" stroke="#3FA3CC" stroke-width="0.5"/><circle cx="794.5" cy="183.8" r="5" fill="#1587B5" stroke="#3FA3CC" stroke-width="0.5"/><circle cx="956.3" cy="132" r="6.5" fill="#1587B5" stroke="#3FA3CC" stroke-width="0.5"/><circle cx="917.5" cy="145.8" r="5" fill="#1587B5" stroke="#3FA3CC" stroke-width="0.5"/><circle cx="923.3" cy="143.8" r="5" fill="#1587B5" stroke="#3FA3CC" stroke-width="0.5"/><circle cx="1109.3" cy="131.3" r="6.5" fill="#1587B5" stroke="#3FA3CC" stroke-width="0.5"/><circle cx="1132.5" cy="120" r="3" fill="#1587B5" stroke="#3FA3CC" stroke-width="0.5"/><circle cx="958.8" cy="200" r="5" fill="#1587B5" stroke="#3FA3CC" stroke-width="0.5"/><circle cx="985" cy="216.5" r="6.5" fill="#1587B5" stroke="#3FA3CC" stroke-width="0.5"/><circle cx="894.5" cy="218.8" r="5" fill="#1587B5" stroke="#3FA3CC" stroke-width="0.5"/><circle cx="925.8" cy="234.3" r="3.5" fill="#1587B5" stroke="#3FA3CC" stroke-width="0.5"/><circle cx="925.8" cy="243" r="5" fill="#1587B5" stroke="#3FA3CC" stroke-width="0.5"/><circle cx="890" cy="231" r="3.5" fill="#1587B5" stroke="#3FA3CC" stroke-width="0.5"/><circle cx="750" cy="265.5" r="5" fill="#1587B5" stroke="#3FA3CC" stroke-width="0.5"/><circle cx="683.3" cy="287.5" r="3.5" fill="#1587B5" stroke="#3FA3CC" stroke-width="0.5"/><circle cx="779.3" cy="295" r="3.5" fill="#1587B5" stroke="#3FA3CC" stroke-width="0.5"/><circle cx="673.8" cy="330" r="5" fill="#1587B5" stroke="#3FA3CC" stroke-width="0.5"/><circle cx="843" cy="245" r="5" fill="#1587B5" stroke="#3FA3CC" stroke-width="0.5"/><circle cx="876.3" cy="255.5" r="3.5" fill="#1587B5" stroke="#3FA3CC" stroke-width="0.5"/><circle cx="887.5" cy="231.3" r="3.5" fill="#1587B5" stroke="#3FA3CC" stroke-width="0.5"/><circle cx="961.3" cy="266.3" r="5" fill="#3D9CCB" fill-opacity="0.8"/><rect x="839.8" y="175.5" width="8" height="8" fill="#FACB85" stroke="#DE8E3C" stroke-width="0.8"/><path d="M839.8 175.5L847.8 183.5M847.8 175.5L839.8 183.5" stroke="#DE8E3C" stroke-width="0.7"/><rect x="957.3" y="131.5" width="8" height="8" fill="#FACB85" stroke="#DE8E3C" stroke-width="0.8"/><path d="M957.3 131.5L965.3 139.5M965.3 131.5L957.3 139.5" stroke="#DE8E3C" stroke-width="0.7"/><rect x="933.0" y="183.0" width="9" height="9" fill="#FACB85" stroke="#DE8E3C" stroke-width="0.8"/><path d="M933.0 183.0L942.0 192.0M942.0 183.0L933.0 192.0" stroke="#DE8E3C" stroke-width="0.7"/><rect x="900.3" y="220.3" width="8" height="8" fill="#FACB85" stroke="#DE8E3C" stroke-width="0.8"/><path d="M900.3 220.3L908.3 228.3M908.3 220.3L900.3 228.3" stroke="#DE8E3C" stroke-width="0.7"/><circle cx="395.8" cy="55" r="6" fill="#fff" stroke="#222" stroke-width="0.8"/><path d="M395.8 49A6 6 0 0 1 395.8 61Z" fill="#222"/><circle cx="578.8" cy="178.3" r="6" fill="#fff" stroke="#222" stroke-width="0.8"/><path d="M578.8 172.3A6 6 0 0 1 578.8 184.3Z" fill="#222"/><circle cx="608.8" cy="150.5" r="6" fill="#fff" stroke="#222" stroke-width="0.8"/><path d="M608.8 144.5A6 6 0 0 1 608.8 156.5Z" fill="#222"/><circle cx="665.8" cy="168.3" r="6" fill="#fff" stroke="#222" stroke-width="0.8"/><path d="M665.8 162.3A6 6 0 0 1 665.8 174.3Z" fill="#222"/><circle cx="771" cy="115.5" r="6" fill="#fff" stroke="#222" stroke-width="0.8"/><path d="M771 109.5A6 6 0 0 1 771 121.5Z" fill="#222"/><circle cx="756.3" cy="152" r="6" fill="#fff" stroke="#222" stroke-width="0.8"/><path d="M756.3 146A6 6 0 0 1 756.3 158Z" fill="#222"/><circle cx="803.3" cy="280" r="6" fill="#fff" stroke="#222" stroke-width="0.8"/><path d="M803.3 274A6 6 0 0 1 803.3 286Z" fill="#222"/><circle cx="862" cy="283.3" r="6" fill="#fff" stroke="#222" stroke-width="0.8"/><path d="M862 277.3A6 6 0 0 1 862 289.3Z" fill="#222"/><circle cx="539.5" cy="113.3" r="5.4" fill="#F01818"/><path d="M538.5 105q-1.5 -2.5 1 -4q2 1.5 0.5 3" fill="none" stroke="#F01818" stroke-width="0.9"/></g>
<rect x="397" y="37" width="66" height="16" fill="#fff" fill-opacity="0.38"/><text x="398.8" y="50" font-size="16.5" font-weight="bold" textLength="62.5" lengthAdjust="spacingAndGlyphs">Xilinhot</text><text x="470" y="65" font-size="16.5" textLength="80" lengthAdjust="spacingAndGlyphs">Hot Spring</text><text x="531.3" y="147.5" font-size="16" font-weight="bold">A'</text><text x="449.3" y="182.5" font-size="16" font-weight="bold">A</text><rect x="497.5" y="193.5" width="93" height="17" fill="#fff" fill-opacity="0.38"/><text x="499" y="207.8" font-size="17" font-weight="bold" textLength="102" lengthAdjust="spacingAndGlyphs">Henanyingzi</text><text x="322.5" y="244.5" font-size="17" font-weight="bold" textLength="123.8" lengthAdjust="spacingAndGlyphs">Otindag Desert</text><rect x="609" y="124" width="39" height="16" fill="#fff" fill-opacity="0.38"/><text x="610.5" y="137.5" font-size="16.5" font-weight="bold" textLength="35.8" lengthAdjust="spacingAndGlyphs">Keqi</text><rect x="650.5" y="93" width="100" height="17" fill="#fff" fill-opacity="0.38"/><text x="652" y="107.5" font-size="16.5" font-weight="bold" textLength="96.8" lengthAdjust="spacingAndGlyphs">Wanheyong</text><rect x="775.5" y="91.5" width="54" height="17" fill="#fff" fill-opacity="0.38"/><text x="777" y="105.5" font-size="16.5" font-weight="bold" textLength="51" lengthAdjust="spacingAndGlyphs">Daban</text><rect x="725.5" y="127.5" width="79" height="17" fill="#fff" fill-opacity="0.38"/><text x="727" y="141.8" font-size="16.5" font-weight="bold" textLength="76" lengthAdjust="spacingAndGlyphs">Balinqiao</text><text x="826.3" y="138" font-size="16" font-weight="bold">B</text><text x="687.5" y="177.5" font-size="17" font-weight="bold" fill="#0A3CA0" textLength="99.5" lengthAdjust="spacingAndGlyphs">R.Xilamulun</text><text x="730.5" y="225.8" font-size="16" font-weight="bold">C'</text><text x="703.8" y="345" font-size="16" font-weight="bold">C</text><rect x="786" y="253" width="66" height="18" fill="#fff" fill-opacity="0.38"/><text x="787.5" y="267.5" font-size="16.5" font-weight="bold" textLength="62.5" lengthAdjust="spacingAndGlyphs">Chifeng</text><rect x="873.5" y="265" width="97" height="18" fill="#fff" fill-opacity="0.38"/><text x="875" y="279.5" font-size="16.5" font-weight="bold" textLength="93.8" lengthAdjust="spacingAndGlyphs">Xinglongpo</text><text x="936.3" y="235" font-size="16" font-weight="bold">B'</text><text x="955.5" y="194" font-size="16" font-weight="bold" fill="#0A3CA0" textLength="70" lengthAdjust="spacingAndGlyphs" transform="rotate(-34.2 955.5 194)">R.Laoha</text><text x="994" y="127" font-size="18" font-weight="bold" fill="#3A3A3A" textLength="131" lengthAdjust="spacingAndGlyphs" transform="rotate(-20.7 994 127)">Xar Moron fualt</text><text x="835" y="321.5" font-size="17.6" font-weight="bold" fill="#3A3A3A" textLength="206.5" lengthAdjust="spacingAndGlyphs" transform="rotate(9.4 835 321.5)">Chifeng-Bayan Obo fualt</text>
<g id="scalebar">
<rect x="923.8" y="371.3" width="188.7" height="12.4" fill="none" stroke="#000" stroke-width="0.8"/>
<rect x="923.8" y="371.3" width="21.7" height="12.4" fill="#000"/>
<rect x="965.5" y="371.3" width="21.5" height="12.4" fill="#000"/>
<rect x="1049.3" y="371.3" width="63.2" height="12.4" fill="#000"/>
<path d="M945.5 377.5H965.5M987 377.5H1049.3" stroke="#000" stroke-width="0.7"/>
<text x="923.5" y="364.5" font-size="13.5" text-anchor="middle">50</text>
<text x="955.5" y="364.5" font-size="13.5" text-anchor="middle">25</text>
<text x="986.5" y="364.5" font-size="13.5" text-anchor="middle">0</text>
<text x="1049.7" y="364.5" font-size="13.5" text-anchor="middle">50</text>
<text x="1102" y="364.5" font-size="13.5" textLength="44" lengthAdjust="spacingAndGlyphs">100 km</text>
</g>
<g id="north">
<text x="1134" y="52.5" font-size="15" text-anchor="middle">N</text>
<path d="M1133.8 58.8L1120.5 101.3L1133.8 91.3Z" fill="#000" stroke="#000" stroke-width="0.8" stroke-linejoin="round"/>
<path d="M1133.8 58.8L1146.3 100.5L1133.8 91.3Z" fill="none" stroke="#000" stroke-width="0.9" stroke-linejoin="round"/>
</g>
<rect x="309" y="31" width="851" height="363.2" fill="none" stroke="#000" stroke-width="1.6"/>
<path d="M393.2 24v7M393.2 394v7M532.5 24v7M532.5 394v7M671.7 24v7M671.7 394v7M811.0 24v7M811.0 394v7M950.2 24v7M950.2 394v7M1089.5 24v7M1089.5 394v7M1160 45h7M309 45h-4M1160 185.3h7M309 185.3h-4M1160 324.5h7M309 324.5h-4" stroke="#000" stroke-width="1.3" fill="none"/>
<rect x="307.5" y="30" width="48.3" height="45.3" fill="#fff"/>
<text x="307.9" y="66.8" font-size="43" textLength="49.5" lengthAdjust="spacingAndGlyphs">(b)</text>
<text x="343.5" y="18.6" font-size="23" textLength="64" lengthAdjust="spacingAndGlyphs">116°E</text>
<text x="484.8" y="18.6" font-size="23" textLength="64" lengthAdjust="spacingAndGlyphs">117°E</text>
<text x="626.1" y="18.6" font-size="23" textLength="64" lengthAdjust="spacingAndGlyphs">118°E</text>
<text x="767.4" y="18.6" font-size="23" textLength="64" lengthAdjust="spacingAndGlyphs">119°E</text>
<text x="908.7" y="18.6" font-size="23" textLength="64" lengthAdjust="spacingAndGlyphs">120°E</text>
<text x="1050.0" y="18.6" font-size="23" textLength="64" lengthAdjust="spacingAndGlyphs">121°E</text>
<text x="1193.5" y="87.2" font-size="26" textLength="57.8" lengthAdjust="spacingAndGlyphs" transform="rotate(-90 1193.5 87.2)">44°N</text>
<text x="1193.5" y="227.5" font-size="26" textLength="57.8" lengthAdjust="spacingAndGlyphs" transform="rotate(-90 1193.5 227.5)">43°N</text>
<text x="1193.5" y="366.7" font-size="26" textLength="57.8" lengthAdjust="spacingAndGlyphs" transform="rotate(-90 1193.5 366.7)">42°N</text>
</g>
<defs><clipPath id="clipA"><rect x="2" y="31" width="301" height="256"/></clipPath></defs>
<g id="panel-a">
<g clip-path="url(#clipA)">
<rect x="2" y="31" width="301" height="256" fill="#E1E1E1"/>
<polygon points="303.0,127.8 292.0,132.0 280.0,137.0 268.0,140.0 258.4,142.6 250.0,146.0 244.0,152.0 240.0,150.0 232.6,145.2 223.1,146.5 214.9,150.6 203.6,156.2 197.1,161.1 191.4,166.0 188.1,164.4 192.2,157.9 197.9,152.2 196.3,147.3 187.3,150.0 177.6,156.2 167.9,160.3 160.6,164.4 159.7,168.4 162.2,171.7 167.9,174.9 171.1,178.1 176.0,179.0 182.5,176.5 190.6,176.0 198.7,178.1 197.1,180.3 189.0,182.5 180.8,187.1 174.4,193.6 172.7,196.8 177.6,204.9 184.9,213.0 190.6,219.5 194.6,224.4 181.7,225.2 189.0,228.5 198.7,230.9 197.1,237.4 193.0,245.5 189.0,253.6 182.5,263.4 176.0,273.1 171.1,281.2 166.2,286.9 303.0,287.3" fill="#D6E3FA"/>
<polyline points="303.0,127.8 292.0,132.0 280.0,137.0 268.0,140.0 258.4,142.6 250.0,146.0 244.0,152.0 240.0,150.0 232.6,145.2 223.1,146.5 214.9,150.6 203.6,156.2 197.1,161.1 191.4,166.0 188.1,164.4 192.2,157.9 197.9,152.2 196.3,147.3 187.3,150.0 177.6,156.2 167.9,160.3 160.6,164.4 159.7,168.4 162.2,171.7 167.9,174.9 171.1,178.1 176.0,179.0 182.5,176.5 190.6,176.0 198.7,178.1 197.1,180.3 189.0,182.5 180.8,187.1 174.4,193.6 172.7,196.8 177.6,204.9 184.9,213.0 190.6,219.5 194.6,224.4 181.7,225.2 189.0,228.5 198.7,230.9 197.1,237.4 193.0,245.5 189.0,253.6 182.5,263.4 176.0,273.1 171.1,281.2 166.2,286.9" fill="none" stroke="#555" stroke-width="0.9"/>
<polygon points="232.6,145.2 229.0,150.0 227.4,155.5 230.0,160.0 232.6,165.8 228.0,171.0 224.8,176.2 226.5,181.0 227.4,186.5 225.5,193.0 224.8,199.4 227.0,204.0 230.0,207.2 239.0,207.0 248.1,204.6 252.5,198.0 255.8,191.7 255.5,185.0 254.5,178.8 251.5,172.0 248.1,165.8 245.0,160.0 242.9,155.5 245.0,151.0 248.1,147.8 253.0,145.0 258.4,142.6" fill="#E1E1E1" stroke="#555" stroke-width="0.9"/>
<path d="M226 178l4 -6 5 3 3 10 -2 9 4 8 -7 3 -5 -4 1 -10z" fill="#AFAFAF"/>
<polygon points="258.0,213.0 262.0,208.0 268.7,205.0 277.0,201.0 286.0,196.0 294.0,193.0 303.0,190.0 303.0,208.0 295.0,209.0 287.0,211.5 279.0,214.0 272.0,216.0 268.7,219.0 269.0,224.0 266.0,227.0 261.0,225.5 258.4,220.0" fill="#E1E1E1" stroke="#555" stroke-width="0.9"/>
<path d="M262 210l8 -3 9 -4 9 -3 8 -3 5 1 -6 4 -9 3 -8 4 -8 3 -5 4 1 7 -4 -2 -2 -6z" fill="none" stroke="#4a4a4a" stroke-width="1.6" stroke-dasharray="2 1.4"/>
<polygon points="183.5,287 185,281 188,277.5 192,277 193.5,280 191,287" fill="#E1E1E1" stroke="#555" stroke-width="0.8"/>
<path d="M198 232l-1.5 6 -4 8 -4 8 -6.5 10 -6 9.5 -5 8" fill="none" stroke="#4d4d4d" stroke-width="2.4" stroke-dasharray="2.2 1.4"/>
<path d="M262 222l-4 6 -5 7 -4 8 -6 7 -5 8 -7 7 -8 6 -9 5 -8 5" fill="none" stroke="#555" stroke-width="1.5" stroke-dasharray="1.5 4.5"/>
<polyline points="50.7,73.7 59.5,72.1 70.4,73.7 81.2,77.1 86.6,80.5 97.4,82.5 108.3,81.2 119.1,79.1 128.6,75.1 135.3,73.7 143.4,75.7 151.6,77.4 159.5,79.1 166.2,75.1 173.0,71.0 177.1,65.6 183.8,58.8 184.5,55.4 181.1,50.7 190.6,48.7 204.1,47.3 215.0,49.4 223.1,50.7 229.8,56.1 233.9,64.2 239.3,73.7 244.7,79.1 255.5,80.5 263.7,84.5 266.4,91.3 274.5,94.0 285.3,91.3 297.5,88.6 296.1,95.4 290.7,104.8 285.3,113.0 281.0,117.0 286.0,122.0 293.0,127.0 297.0,130.0" fill="none" stroke="#4f4f4f" stroke-width="0.8"/>
<polyline points="2.0,135.3 27.0,135.3 35.0,137.3 44.7,140.7 56.8,142.7 65.0,140.0 74.4,138.0 90.0,134.0 105.0,128.0 118.0,124.0 125.0,118.5 135.0,116.0 150.0,112.5 165.0,108.0 178.0,104.0 185.0,101.0 180.0,97.5 170.0,96.5 160.0,95.3 150.0,94.0 143.5,92.0 146.0,85.0 151.6,77.4" fill="none" stroke="#4f4f4f" stroke-width="0.8"/>
<polyline points="281,117 272,122 262,126 254,131 246,137 240,143 236,146" fill="none" stroke="#4f4f4f" stroke-width="0.8"/>
<polyline points="2,250 6,252 8,260 6,268 2,270" fill="none" stroke="#4f4f4f" stroke-width="0.8"/>
<polyline points="2,281 8,281 9,287" fill="none" stroke="#4f4f4f" stroke-width="0.8"/>
<polygon points="74.2,138.6 94.7,134.6 106.9,129.9 121.8,125.8 140.7,124.5 150.0,124.5 190.6,124.9 225.8,122.4 244.7,127.8 256.9,136.0 254.2,138.0 244.7,131.9 225.8,129.9 190.6,129.2 170.3,130.5 150.0,132.6 140.7,132.6 121.8,134.6 106.9,137.3 94.7,138.6" fill="#FFA500"/>
<ellipse cx="166" cy="121.5" rx="4" ry="1.6" fill="#666" transform="rotate(-25 166 121.5)"/>
<ellipse cx="174" cy="123" rx="3" ry="1.4" fill="#666" transform="rotate(-25 174 123)"/>
<ellipse cx="179.5" cy="132.5" rx="4" ry="1.6" fill="#666" transform="rotate(-25 179.5 132.5)"/>
<ellipse cx="170" cy="137" rx="2.2" ry="1" fill="#666" transform="rotate(-25 170 137)"/>
<ellipse cx="161" cy="140" rx="2.5" ry="1.2" fill="#666" transform="rotate(-25 161 140)"/>
<ellipse cx="122" cy="146.5" rx="3.2" ry="1.5" fill="#666" transform="rotate(-25 122 146.5)"/>
<ellipse cx="128" cy="148" rx="3" ry="1.5" fill="#666" transform="rotate(-25 128 148)"/>
<ellipse cx="134" cy="147" rx="2.5" ry="1.3" fill="#666" transform="rotate(-25 134 147)"/>
<ellipse cx="140" cy="116" rx="3.5" ry="1.5" fill="#666" transform="rotate(-25 140 116)"/>
<ellipse cx="147" cy="121" rx="3" ry="1.3" fill="#666" transform="rotate(-25 147 121)"/>
<ellipse cx="205" cy="49.5" rx="3" ry="1.4" fill="#666" transform="rotate(-25 205 49.5)"/>
<ellipse cx="193.5" cy="76" rx="4.5" ry="1.2" fill="#666" transform="rotate(-25 193.5 76)"/>
<ellipse cx="196.5" cy="80" rx="3.5" ry="1" fill="#666" transform="rotate(-25 196.5 80)"/>
<ellipse cx="224.5" cy="75.5" rx="2" ry="2.2" fill="#666" transform="rotate(-25 224.5 75.5)"/>
<ellipse cx="227.5" cy="83" rx="3.5" ry="3.2" fill="#666" transform="rotate(-25 227.5 83)"/>
<ellipse cx="185" cy="96" rx="3" ry="2.3" fill="#666" transform="rotate(-25 185 96)"/>
<ellipse cx="181.5" cy="99.5" rx="2.5" ry="2" fill="#666" transform="rotate(-25 181.5 99.5)"/>
<ellipse cx="178.5" cy="103" rx="2" ry="2.3" fill="#666" transform="rotate(-25 178.5 103)"/>
<ellipse cx="269.5" cy="102" rx="2" ry="1" fill="#666" transform="rotate(-25 269.5 102)"/>
<ellipse cx="276" cy="101.5" rx="3" ry="1.6" fill="#666" transform="rotate(-25 276 101.5)"/>
<ellipse cx="283.5" cy="99" rx="1.6" ry="1" fill="#666" transform="rotate(-25 283.5 99)"/>
<ellipse cx="266" cy="109.5" rx="4" ry="1.4" fill="#666" transform="rotate(-25 266 109.5)"/>
<ellipse cx="260" cy="113.5" rx="3.5" ry="1.2" fill="#666" transform="rotate(-25 260 113.5)"/>
<ellipse cx="255" cy="118" rx="4" ry="1.5" fill="#666" transform="rotate(-25 255 118)"/>
<ellipse cx="249" cy="121" rx="3" ry="1.2" fill="#666" transform="rotate(-25 249 121)"/>
<ellipse cx="238" cy="137" rx="3.5" ry="2.5" fill="#666" transform="rotate(-25 238 137)"/>
<ellipse cx="233" cy="133" rx="3" ry="1.5" fill="#666" transform="rotate(-25 233 133)"/>
<ellipse cx="132" cy="173" rx="2" ry="1.2" fill="#666" transform="rotate(-25 132 173)"/>
<ellipse cx="136" cy="177.5" rx="1.5" ry="1" fill="#666" transform="rotate(-25 136 177.5)"/>
<ellipse cx="138" cy="168" rx="2" ry="1" fill="#666" transform="rotate(-25 138 168)"/>
<ellipse cx="162" cy="184" rx="1.5" ry="2" fill="#666" transform="rotate(-25 162 184)"/>
<ellipse cx="131" cy="165.5" rx="1.5" ry="0.8" fill="#666" transform="rotate(-25 131 165.5)"/>
<ellipse cx="272" cy="141" rx="2.5" ry="1.5" fill="#666" transform="rotate(-25 272 141)"/>
<polyline points="191.2,176.2 178.3,183.9 168.0,194.3 165.4,202.0 161.5,214.9 153.7,224.0 137.0,220.1 121.4,213.6 108.5,207.2 90.4,205.9 77.5,202.0 71.1,195.6 69.8,183.9 67.7,173.6 56.8,171.5 38.8,169.7 20.7,163.3 7.8,156.8 25.8,155.5 46.5,152.9 64.6,150.3 74.9,145.2 85.3,142.6 103.4,143.9 121.4,142.6 142.1,141.6 180.9,141.3" fill="none" stroke="#2F6FB0" stroke-width="1.3" stroke-linejoin="round"/>
<polyline points="180.9,141.3 200,138 215,135.5 230,134 245,136.5 257,140" fill="none" stroke="#6F9FD0" stroke-width="0.9"/>
<rect x="141.1" y="122.7" width="51.5" height="22.5" fill="none" stroke="#2E9B46" stroke-width="1.3"/>
<circle cx="118" cy="128.5" r="4.5" fill="none" stroke="#000" stroke-width="1.2"/><circle cx="118" cy="128.5" r="1.1" fill="#000"/>
<circle cx="186.3" cy="140.3" r="4.5" fill="none" stroke="#000" stroke-width="1.2"/><circle cx="186.3" cy="140.3" r="1.1" fill="#000"/>
<polygon points="150.0,157.7 152.0,163.5 158.2,163.6 153.3,167.4 155.1,173.3 150.0,169.7 144.9,173.3 146.7,167.4 141.8,163.6 148.0,163.5" fill="#FF1E1E"/>
<rect x="48" y="43" width="137" height="13" fill="#fff" fill-opacity="0.55"/>
<text x="39.5" y="53.4" font-size="11.6" font-weight="bold" font-style="italic" textLength="144.3" lengthAdjust="spacingAndGlyphs">RUSSIAN FEDERATION</text>
<rect x="32" y="89" width="69.5" height="13" fill="#fff" fill-opacity="0.55"/>
<text x="33.2" y="99.8" font-size="11.6" font-weight="bold" font-style="italic" textLength="66.9" lengthAdjust="spacingAndGlyphs">MONGOLIA</text>
<rect x="21.5" y="187.5" width="41.5" height="12.5" fill="#fff" fill-opacity="0.55"/>
<text x="23.3" y="198.1" font-size="11.9" font-weight="bold" font-style="italic" textLength="38.2" lengthAdjust="spacingAndGlyphs">CHINA</text>
<rect x="58" y="107.5" width="65" height="18.5" fill="#fff" fill-opacity="0.55"/>
<text x="59.1" y="122.7" font-size="17.5" textLength="63.4" lengthAdjust="spacingAndGlyphs">Erenhot</text>
<text x="129.2" y="115.4" font-size="17.5" fill="#35A36B" textLength="87" lengthAdjust="spacingAndGlyphs">Study Area</text>
<rect x="193" y="119" width="64" height="16.5" fill="#fff" fill-opacity="0.6"/>
<text x="194" y="134.3" font-size="17.5" textLength="61.5" lengthAdjust="spacingAndGlyphs">Naiman</text>
<text x="206.6" y="103.5" font-size="17.5" fill="#6E6E6E" textLength="50.3" lengthAdjust="spacingAndGlyphs">CAOB</text>
<text x="82.7" y="189.1" font-size="17.3" fill="#8C8C8C" textLength="38.2" lengthAdjust="spacingAndGlyphs">NCC</text>
<rect x="201" y="159.5" width="95.5" height="12" fill="#fff" fill-opacity="0.6" transform="rotate(-15.2 201.6 170.5)"/>
<text x="201.6" y="170.5" font-size="12" font-weight="bold" textLength="92.8" lengthAdjust="spacingAndGlyphs" transform="rotate(-15.2 201.6 170.5)">DEM. PEOPLE'S</text>
<rect x="205" y="172.5" width="96" height="12" fill="#fff" fill-opacity="0.6" transform="rotate(-15.4 205.7 183.5)"/>
<text x="205.7" y="183.5" font-size="12" font-weight="bold" textLength="93.4" lengthAdjust="spacingAndGlyphs" transform="rotate(-15.4 205.7 183.5)">REP. OF KOREA</text>
<rect x="201" y="197" width="96" height="12.3" fill="#fff" fill-opacity="0.6" transform="rotate(-15 201.6 208.2)"/>
<text x="201.6" y="208.2" font-size="12" font-weight="bold" textLength="94.5" lengthAdjust="spacingAndGlyphs" transform="rotate(-15 201.6 208.2)">REP. OF KOREA</text>
<rect x="257" y="214.5" width="43.5" height="12" fill="#fff" fill-opacity="0.6"/>
<text x="258" y="225.2" font-size="12" font-weight="bold" font-style="italic" textLength="41.4" lengthAdjust="spacingAndGlyphs">JAPAN</text>
<text x="221.8" y="231.7" font-size="13.6" fill="#2A50B4" text-anchor="middle">East</text>
<text x="221.5" y="247.1" font-size="13.6" fill="#2A50B4" text-anchor="middle">China</text>
<text x="223.5" y="262.1" font-size="13.6" fill="#2A50B4" text-anchor="middle">Sea</text>
</g>
<rect x="2.5" y="34.5" width="48.2" height="44.4" fill="#fff"/>
<text x="2.4" y="70.7" font-size="40" textLength="49.5" lengthAdjust="spacingAndGlyphs">(a)</text>
<rect x="1.6" y="31" width="301.3" height="255.9" fill="none" stroke="#000" stroke-width="1.15"/>
</g>
<g id="legend-a">
<rect x="2.2" y="288.2" width="303" height="107" fill="#fff" stroke="#000" stroke-width="1.2"/>
<text x="12" y="310" font-size="22" font-weight="bold" textLength="80" lengthAdjust="spacingAndGlyphs">Legend</text>
<path d="M18.7 324.7C24 321 28 316.5 33 317.8C39 319.5 42 327 52 327.5C58 327.9 64 328 70.7 328" fill="none" stroke="#2F6FB0" stroke-width="1.4"/>
<text x="78.7" y="329.2" font-size="23.5" textLength="224" lengthAdjust="spacingAndGlyphs" style="white-space:pre">Boundary of  the NCC</text>
<rect x="19.2" y="334" width="48" height="16" fill="#737373"/>
<text x="78.7" y="350" font-size="23.5" textLength="163.4" lengthAdjust="spacingAndGlyphs">Cenozoic basalt</text>
<rect x="19.2" y="353.5" width="48" height="16" fill="#FFA500"/>
<text x="78.7" y="369.5" font-size="23.5" textLength="164" lengthAdjust="spacingAndGlyphs">Solonker Suture</text>
<circle cx="44.8" cy="384.1" r="5" fill="none" stroke="#000" stroke-width="1.1"/><circle cx="44.8" cy="384.1" r="1.2" fill="#000"/>
<text x="79.2" y="390" font-size="23.5" textLength="37.3" lengthAdjust="spacingAndGlyphs">City</text>
<polygon points="156.8,375.5 158.9,381.5 165.2,381.6 160.1,385.4 162.0,391.4 156.8,387.8 151.6,391.4 153.5,385.4 148.4,381.6 154.7,381.5" fill="#FF1E1E"/>
<text x="174.7" y="390" font-size="23.5" textLength="66.6" lengthAdjust="spacingAndGlyphs">Beijing</text>
</g>
<defs><clipPath id="clipC"><rect x="3" y="413" width="530" height="393"/></clipPath>
<clipPath id="clipW"><polygon points="46.3,570.0 45.4,567.5 47.5,566.0 53.4,565.4 58.3,561.5 64.7,562.7 70.0,560.0 70.0,555.8 72.5,552.5 78.3,553.5 83.6,550.0 89.5,551.6 95.0,550.0 101.5,548.2 108.5,549.9 115.0,547.5 117.5,543.5 117.5,538.8 122.8,535.2 129.6,535.8 135.0,532.5 140.2,532.6 144.7,529.3 150.0,530.0 155.8,526.3 162.5,525.0 168.2,529.0 175.0,530.0 179.8,528.2 185.3,529.9 190.0,527.5 196.4,527.8 202.4,524.7 209.0,526.3 215.0,523.8 221.0,521.3 227.7,523.2 233.6,520.0 240.0,520.0 244.3,518.3 247.5,515.0 254.3,513.1 261.3,514.7 268.0,511.5 275.0,512.5 279.7,514.9 285.2,512.9 290.0,515.0 295.6,512.8 302.0,514.1 307.5,511.3 314.1,511.0 319.8,507.2 326.6,508.1 332.5,505.0 332.2,499.6 335.0,495.0 340.8,496.4 346.8,494.3 352.5,496.3 357.0,493.0 362.9,493.0 367.5,490.0 372.5,488.9 375.2,483.9 380.0,482.5 385.4,478.7 392.4,478.1 397.5,473.8 403.6,475.7 410.0,475.0 417.1,475.6 422.9,480.4 430.0,481.3 436.7,481.8 443.2,478.8 450.0,480.0 452.4,475.8 457.3,474.0 460.0,470.0 464.5,467.8 465.8,462.4 470.0,460.0 474.8,457.8 480.0,457.5 480.0,450.4 477.5,443.8 483.3,440.4 490.0,440.0 496.8,439.9 503.1,436.4 510.0,437.0 516.8,439.0 522.1,444.1 528.8,446.3 528.5,453.4 531.3,460.0 527.5,464.5 522.5,467.5 521.2,472.5 522.5,477.5 518.0,480.7 512.1,479.6 507.5,482.5 502.6,486.9 500.4,493.5 495.0,497.5 497.9,503.9 497.4,511.1 500.0,517.5 502.1,522.7 507.7,525.0 510.0,530.0 504.2,534.0 497.5,536.3 491.2,537.2 486.2,541.3 480.0,542.5 480.3,549.1 477.5,555.0 474.9,560.6 475.7,567.1 472.5,572.5 471.1,577.3 466.7,580.3 465.0,585.0 458.4,586.0 453.5,591.2 446.6,591.6 441.6,596.5 435.0,597.5 430.2,599.7 425.0,600.0 421.4,604.4 420.0,610.0 413.7,613.2 406.4,612.1 400.0,615.0 393.7,616.1 388.5,620.5 381.6,619.8 376.3,623.9 370.0,625.0 374.3,627.9 375.9,633.2 380.0,636.3 376.8,640.3 377.9,645.9 375.0,650.0 377.2,656.1 377.5,662.5 372.2,665.3 369.1,670.8 363.0,672.6 360.3,678.5 355.0,681.3 349.6,679.1 347.0,673.4 341.3,671.7 337.5,667.5 333.8,666.5 330.0,667.5 325.8,672.8 319.4,675.5 316.1,681.8 310.0,685.0 309.7,690.4 313.8,694.7 313.8,700.0 309.0,704.5 302.2,706.2 298.6,712.3 292.5,715.0 286.1,712.1 278.9,712.6 272.5,710.0 271.4,715.7 266.4,719.4 265.0,725.0 259.6,726.6 255.0,730.0 249.6,729.3 245.3,725.4 239.4,725.9 235.0,722.5 231.2,725.4 230.0,730.0 224.9,734.5 217.9,736.2 213.8,742.3 207.5,745.0 202.5,747.3 199.8,752.4 195.0,755.0 193.0,760.9 187.3,764.3 185.0,770.0 184.0,776.2 185.0,782.5 183.4,785.9 180.0,787.5 178.4,793.1 180.0,798.8 173.3,799.8 166.7,797.2 160.0,798.8 155.7,794.6 150.0,792.5 144.2,790.9 140.7,785.4 134.5,784.3 130.8,779.1 125.0,777.5 120.6,772.6 114.0,770.4 110.0,765.0 106.4,760.6 105.0,755.0 99.6,751.8 93.0,752.9 87.5,750.0 85.7,744.3 87.4,738.1 85.0,732.5 89.5,731.1 92.5,727.5 86.5,724.6 83.3,718.2 77.5,715.0 76.8,708.1 72.6,702.1 72.5,695.0 72.5,689.7 75.0,685.0 72.8,680.5 67.4,679.2 65.0,675.0 63.2,670.2 64.9,664.7 62.5,660.0 66.1,655.6 67.5,650.0 62.5,646.0 60.0,640.0 58.4,634.6 53.6,630.7 52.5,625.0 53.9,619.4 57.5,615.0 58.2,609.7 54.6,605.2 55.0,600.0 51.6,595.4 50.0,590.0 50.0,583.1 46.6,576.8"/></clipPath></defs>
<g id="panel-c">
<g clip-path="url(#clipC)">
<path d="M447.5 415.0C449.9 415.6 456.6 418.1 462.0 418.5C467.4 418.9 477.0 417.7 480.0 417.5M517.5 498.8C518.8 497.8 522.4 494.6 525.0 493.0C527.6 491.4 531.7 489.7 533.0 489.0M512.5 552.5C513.9 553.8 518.5 557.1 521.0 560.0C523.5 562.9 526.0 566.3 527.5 570.0C529.0 573.7 529.2 577.8 530.0 582.0C530.8 586.2 531.7 592.8 532.0 595.0M533.0 612.0C532.7 613.7 531.9 618.2 531.0 622.0C530.1 625.8 527.5 632.0 527.5 635.0C527.5 638.0 530.4 639.2 531.0 640.0M436.3 649.5C440.2 648.8 451.9 646.8 460.0 645.0C468.1 643.2 477.5 640.7 485.0 638.8C492.5 636.9 498.3 634.0 505.0 633.8C511.7 633.6 520.3 636.2 525.0 637.5C529.7 638.8 531.7 640.7 533.0 641.3M533.0 680.0C529.2 682.1 518.0 688.8 510.0 692.5C502.0 696.2 492.5 697.9 485.0 702.5C477.5 707.1 473.3 716.7 465.0 720.0C456.7 723.3 443.3 721.2 435.0 722.5C426.7 723.8 423.3 724.4 415.0 727.5C406.7 730.6 394.2 739.2 385.0 741.3C375.8 743.4 368.3 740.6 360.0 740.0C351.7 739.4 344.6 737.9 335.0 737.5C325.4 737.1 309.4 736.2 302.5 737.5C295.6 738.8 295.6 739.6 293.8 745.0C292.1 750.4 292.3 765.8 292.0 770.0" fill="none" stroke="#4088F0" stroke-width="1.4"/>
<polygon points="46.3,570.0 45.4,567.5 47.5,566.0 53.4,565.4 58.3,561.5 64.7,562.7 70.0,560.0 70.0,555.8 72.5,552.5 78.3,553.5 83.6,550.0 89.5,551.6 95.0,550.0 101.5,548.2 108.5,549.9 115.0,547.5 117.5,543.5 117.5,538.8 122.8,535.2 129.6,535.8 135.0,532.5 140.2,532.6 144.7,529.3 150.0,530.0 155.8,526.3 162.5,525.0 168.2,529.0 175.0,530.0 179.8,528.2 185.3,529.9 190.0,527.5 196.4,527.8 202.4,524.7 209.0,526.3 215.0,523.8 221.0,521.3 227.7,523.2 233.6,520.0 240.0,520.0 244.3,518.3 247.5,515.0 254.3,513.1 261.3,514.7 268.0,511.5 275.0,512.5 279.7,514.9 285.2,512.9 290.0,515.0 295.6,512.8 302.0,514.1 307.5,511.3 314.1,511.0 319.8,507.2 326.6,508.1 332.5,505.0 332.2,499.6 335.0,495.0 340.8,496.4 346.8,494.3 352.5,496.3 357.0,493.0 362.9,493.0 367.5,490.0 372.5,488.9 375.2,483.9 380.0,482.5 385.4,478.7 392.4,478.1 397.5,473.8 403.6,475.7 410.0,475.0 417.1,475.6 422.9,480.4 430.0,481.3 436.7,481.8 443.2,478.8 450.0,480.0 452.4,475.8 457.3,474.0 460.0,470.0 464.5,467.8 465.8,462.4 470.0,460.0 474.8,457.8 480.0,457.5 480.0,450.4 477.5,443.8 483.3,440.4 490.0,440.0 496.8,439.9 503.1,436.4 510.0,437.0 516.8,439.0 522.1,444.1 528.8,446.3 528.5,453.4 531.3,460.0 527.5,464.5 522.5,467.5 521.2,472.5 522.5,477.5 518.0,480.7 512.1,479.6 507.5,482.5 502.6,486.9 500.4,493.5 495.0,497.5 497.9,503.9 497.4,511.1 500.0,517.5 502.1,522.7 507.7,525.0 510.0,530.0 504.2,534.0 497.5,536.3 491.2,537.2 486.2,541.3 480.0,542.5 480.3,549.1 477.5,555.0 474.9,560.6 475.7,567.1 472.5,572.5 471.1,577.3 466.7,580.3 465.0,585.0 458.4,586.0 453.5,591.2 446.6,591.6 441.6,596.5 435.0,597.5 430.2,599.7 425.0,600.0 421.4,604.4 420.0,610.0 413.7,613.2 406.4,612.1 400.0,615.0 393.7,616.1 388.5,620.5 381.6,619.8 376.3,623.9 370.0,625.0 374.3,627.9 375.9,633.2 380.0,636.3 376.8,640.3 377.9,645.9 375.0,650.0 377.2,656.1 377.5,662.5 372.2,665.3 369.1,670.8 363.0,672.6 360.3,678.5 355.0,681.3 349.6,679.1 347.0,673.4 341.3,671.7 337.5,667.5 333.8,666.5 330.0,667.5 325.8,672.8 319.4,675.5 316.1,681.8 310.0,685.0 309.7,690.4 313.8,694.7 313.8,700.0 309.0,704.5 302.2,706.2 298.6,712.3 292.5,715.0 286.1,712.1 278.9,712.6 272.5,710.0 271.4,715.7 266.4,719.4 265.0,725.0 259.6,726.6 255.0,730.0 249.6,729.3 245.3,725.4 239.4,725.9 235.0,722.5 231.2,725.4 230.0,730.0 224.9,734.5 217.9,736.2 213.8,742.3 207.5,745.0 202.5,747.3 199.8,752.4 195.0,755.0 193.0,760.9 187.3,764.3 185.0,770.0 184.0,776.2 185.0,782.5 183.4,785.9 180.0,787.5 178.4,793.1 180.0,798.8 173.3,799.8 166.7,797.2 160.0,798.8 155.7,794.6 150.0,792.5 144.2,790.9 140.7,785.4 134.5,784.3 130.8,779.1 125.0,777.5 120.6,772.6 114.0,770.4 110.0,765.0 106.4,760.6 105.0,755.0 99.6,751.8 93.0,752.9 87.5,750.0 85.7,744.3 87.4,738.1 85.0,732.5 89.5,731.1 92.5,727.5 86.5,724.6 83.3,718.2 77.5,715.0 76.8,708.1 72.6,702.1 72.5,695.0 72.5,689.7 75.0,685.0 72.8,680.5 67.4,679.2 65.0,675.0 63.2,670.2 64.9,664.7 62.5,660.0 66.1,655.6 67.5,650.0 62.5,646.0 60.0,640.0 58.4,634.6 53.6,630.7 52.5,625.0 53.9,619.4 57.5,615.0 58.2,609.7 54.6,605.2 55.0,600.0 51.6,595.4 50.0,590.0 50.0,583.1 46.6,576.8" fill="#CDFABE"/>
<g clip-path="url(#clipW)">
<path d="M30.0 500.0C73.3 500.0 246.7 496.7 290.0 500.0C333.3 503.3 293.2 513.3 290.0 520.0C286.8 526.7 275.6 535.0 271.0 540.0C266.4 545.0 267.7 548.3 262.5 550.0C257.3 551.7 246.2 550.4 240.0 550.0C233.8 549.6 230.4 546.7 225.0 547.5C219.6 548.3 212.1 552.9 207.5 555.0C202.9 557.1 200.4 557.5 197.5 560.0C194.6 562.5 193.8 567.5 190.0 570.0C186.2 572.5 180.0 572.5 175.0 575.0C170.0 577.5 165.4 582.1 160.0 585.0C154.6 587.9 145.8 590.0 142.5 592.5C139.2 595.0 140.8 596.2 140.0 600.0C139.2 603.8 140.8 610.8 137.5 615.0C134.2 619.2 126.2 622.5 120.0 625.0C113.8 627.5 105.4 628.8 100.0 630.0C94.6 631.2 90.0 629.2 87.5 632.5C85.0 635.8 87.1 646.7 85.0 650.0C82.9 653.3 79.2 652.5 75.0 652.5C70.8 652.5 67.5 650.4 60.0 650.0C52.5 649.6 35.0 675.0 30.0 650.0C25.0 625.0 30.0 525.0 30.0 500.0" fill="#FFD082"/>
<path d="M335.0 490.0C338.2 490.7 350.5 489.4 354.0 494.0C357.5 498.6 357.9 511.5 356.0 517.5C354.1 523.5 346.4 526.2 342.5 530.0C338.6 533.8 336.7 536.7 332.5 540.0C328.3 543.3 320.8 546.7 317.5 550.0C314.2 553.3 316.7 558.8 312.5 560.0C308.3 561.2 297.9 559.6 292.5 557.5C287.1 555.4 281.2 552.1 280.0 547.5C278.8 542.9 283.3 535.2 285.0 530.0C286.7 524.8 286.2 519.7 290.0 516.0C293.8 512.3 300.4 510.7 307.5 508.0C314.6 505.3 327.9 503.0 332.5 500.0C337.1 497.0 334.6 491.7 335.0 490.0" fill="#FFBEBE"/>
<polygon points="392.0,470.0 410.0,470.0 430.0,478.0 450.0,476.0 460.0,466.0 470.0,456.0 478.0,452.0 476.0,440.0 535.0,440.0 535.0,462.0 526.0,470.0 526.0,480.0 510.0,486.0 499.0,498.0 490.0,500.0 485.0,488.0 492.0,474.0 478.0,470.0 462.0,484.0 445.0,497.0 428.0,492.0 412.0,502.0 400.0,494.0" fill="#FFBEBE"/>
<polygon points="499.0,498.0 504.0,517.0 514.0,531.0 500.0,540.0 484.0,546.0 481.0,556.0 476.0,574.0 468.0,588.0 437.0,601.0 425.0,604.0 405.0,592.0 392.0,584.0 420.0,566.0 440.0,552.0 447.0,540.0 465.0,531.0 480.0,521.0 479.0,506.0 488.0,498.0" fill="#FFBEBE"/>
<path d="M455 560l18 -12M440 575l25 -16M430 588l22 -12M470 520l14 -8M492 470l12 -10M500 455l14 -6M515 470l-8 10" stroke="#CDFABE" stroke-width="3" stroke-linecap="round" fill="none"/>
<polygon points="307,668 315,662 330,660 340,663 335,669 320,672 310,673" fill="#FFBEBE"/>
<polygon points="212,520 240,516 242,528 222,531" fill="#CDFABE"/>
<path d="M100.0 635.0C100.8 636.7 101.7 641.2 105.0 645.0C108.3 648.8 114.2 654.2 120.0 657.5C125.8 660.8 130.8 663.3 140.0 665.0C149.2 666.7 162.9 667.9 175.0 667.5C187.1 667.1 200.0 664.6 212.5 662.5C225.0 660.4 235.4 658.3 250.0 655.0C264.6 651.7 285.8 646.7 300.0 642.5C314.2 638.3 325.8 634.6 335.0 630.0C344.2 625.4 351.7 617.5 355.0 615.0M95.0 640.0C97.5 643.3 102.5 654.6 110.0 660.0C117.5 665.4 129.2 670.0 140.0 672.5C150.8 675.0 162.9 675.0 175.0 675.0C187.1 675.0 200.0 674.2 212.5 672.5C225.0 670.8 235.4 668.1 250.0 665.0C264.6 661.9 285.8 657.5 300.0 653.8C314.2 650.0 325.0 647.3 335.0 642.5C345.0 637.7 354.2 630.8 360.0 625.0C365.8 619.2 368.7 613.3 370.0 607.5C371.3 601.7 368.3 592.9 368.0 590.0M95.0 650.0C98.3 653.8 105.8 667.1 115.0 672.5C124.2 677.9 137.5 680.8 150.0 682.5C162.5 684.2 179.2 681.2 190.0 682.5C200.8 683.8 207.5 685.4 215.0 690.0C222.5 694.6 230.8 704.6 235.0 710.0C239.2 715.4 239.2 720.4 240.0 722.5M82.5 672.5C86.2 674.6 96.2 681.2 105.0 685.0C113.8 688.8 123.3 692.5 135.0 695.0C146.7 697.5 164.2 697.9 175.0 700.0C185.8 702.1 192.5 703.3 200.0 707.5C207.5 711.7 215.0 720.8 220.0 725.0C225.0 729.2 228.3 731.2 230.0 732.5M75.0 692.5C79.2 694.6 90.8 701.7 100.0 705.0C109.2 708.3 120.0 709.6 130.0 712.5C140.0 715.4 150.8 718.8 160.0 722.5C169.2 726.2 177.1 730.8 185.0 735.0C192.9 739.2 203.8 745.4 207.5 747.5M77.5 713.8C82.1 715.7 95.4 721.9 105.0 725.0C114.6 728.1 125.8 729.6 135.0 732.5C144.2 735.4 152.5 738.8 160.0 742.5C167.5 746.2 174.6 751.7 180.0 755.0C185.4 758.3 190.4 761.2 192.5 762.5M105.0 743.8C109.2 745.2 121.7 749.4 130.0 752.5C138.3 755.6 147.5 758.8 155.0 762.5C162.5 766.2 170.0 771.2 175.0 775.0C180.0 778.8 183.3 783.3 185.0 785.0M127.5 777.5C131.2 777.9 141.2 779.6 150.0 780.0C158.8 780.4 175.0 780.0 180.0 780.0M150.0 790.0C152.0 791.2 158.3 796.3 162.0 797.0C165.7 797.7 170.3 794.5 172.0 794.0M105.0 635.0C106.2 636.7 108.3 641.9 112.5 645.0C116.7 648.1 122.9 651.7 130.0 653.8C137.1 655.9 145.0 657.1 155.0 657.5C165.0 657.9 178.3 658.0 190.0 656.3C201.7 654.6 215.0 650.2 225.0 647.5C235.0 644.8 241.7 642.5 250.0 640.0C258.3 637.5 268.3 635.4 275.0 632.5C281.7 629.6 286.5 626.2 290.0 622.5C293.5 618.8 296.0 613.8 296.0 610.0C296.0 606.2 293.0 602.0 290.0 600.0C287.0 598.0 280.0 598.3 278.0 598.0M110.0 635.0C111.2 636.2 113.3 640.0 117.5 642.5C121.7 645.0 127.9 648.3 135.0 650.0C142.1 651.7 150.8 652.3 160.0 652.5C169.2 652.7 180.0 653.0 190.0 651.3C200.0 649.6 213.3 646.9 220.0 642.5C226.7 638.1 228.5 632.1 230.0 625.0C231.5 617.9 229.2 607.5 228.8 600.0C228.4 592.5 229.0 586.7 227.5 580.0C226.0 573.3 223.8 564.6 220.0 560.0C216.2 555.4 210.8 553.3 205.0 552.5C199.2 551.7 191.7 552.5 185.0 555.0C178.3 557.5 170.8 562.9 165.0 567.5C159.2 572.1 152.5 580.0 150.0 582.5M150.0 575.0C153.3 572.1 162.5 562.1 170.0 557.5C177.5 552.9 186.7 548.8 195.0 547.5C203.3 546.2 213.8 547.5 220.0 550.0C226.2 552.5 229.6 557.1 232.5 562.5C235.4 567.9 236.9 575.0 237.5 582.5C238.1 590.0 237.1 600.4 236.3 607.5C235.5 614.6 234.8 619.6 232.5 625.0C230.2 630.4 227.1 636.2 222.5 640.0C217.9 643.8 207.9 646.7 205.0 648.0M215.0 537.5C219.2 538.3 232.5 539.6 240.0 542.5C247.5 545.4 254.6 550.0 260.0 555.0C265.4 560.0 269.6 566.7 272.5 572.5C275.4 578.3 276.7 587.1 277.5 590.0M232.5 537.5C235.8 538.8 246.7 541.7 252.5 545.0C258.3 548.3 263.8 553.3 267.5 557.5C271.2 561.7 273.8 567.9 275.0 570.0M242.5 537.5C245.4 539.2 255.0 543.3 260.0 547.5C265.0 551.7 270.4 560.0 272.5 562.5M255.0 537.5C259.2 539.6 273.3 545.4 280.0 550.0C286.7 554.6 290.3 560.0 295.0 565.0C299.7 570.0 303.5 575.8 308.0 580.0C312.5 584.2 317.0 588.0 322.0 590.0C327.0 592.0 335.3 591.7 338.0 592.0M262.0 540.0C265.8 541.3 277.8 544.7 285.0 548.0C292.2 551.3 298.8 556.0 305.0 560.0C311.2 564.0 316.2 569.0 322.0 572.0C327.8 575.0 335.0 575.0 340.0 578.0C345.0 581.0 349.3 585.5 352.0 590.0C354.7 594.5 356.3 600.0 356.0 605.0C355.7 610.0 353.0 616.2 350.0 620.0C347.0 623.8 340.0 626.7 338.0 628.0M300.0 548.0C304.2 548.3 317.5 548.0 325.0 550.0C332.5 552.0 339.5 555.8 345.0 560.0C350.5 564.2 354.8 569.7 358.0 575.0C361.2 580.3 363.0 589.2 364.0 592.0M340.0 535.0C342.1 537.5 350.0 544.2 352.5 550.0C355.0 555.8 352.9 563.3 355.0 570.0C357.1 576.7 362.2 584.0 365.0 590.0C367.8 596.0 370.8 603.3 372.0 606.0M360.0 530.0C361.7 533.3 368.8 544.2 370.0 550.0C371.2 555.8 366.2 559.2 367.5 565.0C368.8 570.8 373.8 579.2 377.5 585.0C381.2 590.8 386.6 595.5 390.0 600.0C393.4 604.5 396.7 610.0 398.0 612.0M175.0 660.0C181.7 659.2 201.7 657.3 215.0 655.0C228.3 652.7 241.7 649.5 255.0 646.0C268.3 642.5 283.3 638.3 295.0 634.0C306.7 629.7 317.5 624.8 325.0 620.0C332.5 615.2 337.5 607.5 340.0 605.0M318.0 682.0C320.8 680.3 329.3 675.7 335.0 672.0C340.7 668.3 346.5 664.0 352.0 660.0C357.5 656.0 365.3 650.0 368.0 648.0M322.0 690.0C325.3 688.3 335.7 683.7 342.0 680.0C348.3 676.3 354.7 672.2 360.0 668.0C365.3 663.8 371.7 657.2 374.0 655.0M352.0 500.0C354.2 500.8 360.3 502.0 365.0 505.0C369.7 508.0 376.7 512.2 380.0 518.0C383.3 523.8 384.2 536.3 385.0 540.0M357.3 498.7C359.5 499.5 365.7 500.2 370.3 503.7C374.9 507.2 381.7 513.5 385.0 519.9C388.3 526.3 389.2 538.2 390.0 541.9M362.6 497.4C364.8 498.2 371.0 498.3 375.6 502.4C380.2 506.5 386.8 514.9 390.0 521.8C393.2 528.7 394.2 540.1 395.0 543.8M367.9 496.1C370.1 496.9 376.4 496.5 380.9 501.1C385.4 505.7 391.8 516.3 395.0 523.7C398.2 531.1 399.2 542.0 400.0 545.7M373.2 494.8C375.4 495.6 381.7 494.7 386.2 499.8C390.7 504.9 396.9 517.6 400.0 525.6C403.1 533.6 404.2 543.9 405.0 547.6M378.5 493.5C380.7 494.3 387.1 492.8 391.5 498.5C395.9 504.2 401.9 519.0 405.0 527.5C408.1 536.0 409.2 545.8 410.0 549.5M383.8 492.2C386.0 493.0 392.4 491.0 396.8 497.2C401.2 503.4 407.0 520.4 410.0 529.4C413.0 538.4 414.2 547.7 415.0 551.4M389.1 490.9C391.3 491.7 397.8 489.2 402.1 495.9C406.4 502.6 412.0 521.7 415.0 531.3C418.0 540.9 419.2 549.6 420.0 553.3M394.4 489.6C396.6 490.4 403.1 487.3 407.4 494.6C411.7 501.9 417.1 523.1 420.0 533.2C422.9 543.3 424.2 551.5 425.0 555.2M399.7 488.3C401.9 489.1 408.5 485.5 412.7 493.3C416.9 501.1 422.1 524.5 425.0 535.1C427.9 545.7 429.2 553.4 430.0 557.1M405.0 487.0C407.2 487.8 413.8 483.7 418.0 492.0C422.2 500.3 427.2 525.8 430.0 537.0C432.8 548.2 434.2 555.3 435.0 559.0M410.3 485.7C412.5 486.5 419.2 481.8 423.3 490.7C427.4 499.6 432.2 527.2 435.0 538.9C437.8 550.6 439.2 557.2 440.0 560.9M445.0 506.0C446.0 507.3 449.3 510.7 451.0 514.0C452.7 517.3 454.3 524.0 455.0 526.0M453.5 504.0C454.5 505.3 457.8 508.7 459.5 512.0C461.2 515.3 462.8 522.0 463.5 524.0M462.0 502.0C463.0 503.3 466.3 506.7 468.0 510.0C469.7 513.3 471.3 520.0 472.0 522.0M470.5 500.0C471.5 501.3 474.8 504.7 476.5 508.0C478.2 511.3 479.8 518.0 480.5 520.0M430.0 508.0C431.3 510.0 436.0 515.0 438.0 520.0C440.0 525.0 441.3 535.0 442.0 538.0" fill="none" stroke="#2A6A18" stroke-width="1.15"/>
</g>
<polygon points="46.3,570.0 45.4,567.5 47.5,566.0 53.4,565.4 58.3,561.5 64.7,562.7 70.0,560.0 70.0,555.8 72.5,552.5 78.3,553.5 83.6,550.0 89.5,551.6 95.0,550.0 101.5,548.2 108.5,549.9 115.0,547.5 117.5,543.5 117.5,538.8 122.8,535.2 129.6,535.8 135.0,532.5 140.2,532.6 144.7,529.3 150.0,530.0 155.8,526.3 162.5,525.0 168.2,529.0 175.0,530.0 179.8,528.2 185.3,529.9 190.0,527.5 196.4,527.8 202.4,524.7 209.0,526.3 215.0,523.8 221.0,521.3 227.7,523.2 233.6,520.0 240.0,520.0 244.3,518.3 247.5,515.0 254.3,513.1 261.3,514.7 268.0,511.5 275.0,512.5 279.7,514.9 285.2,512.9 290.0,515.0 295.6,512.8 302.0,514.1 307.5,511.3 314.1,511.0 319.8,507.2 326.6,508.1 332.5,505.0 332.2,499.6 335.0,495.0 340.8,496.4 346.8,494.3 352.5,496.3 357.0,493.0 362.9,493.0 367.5,490.0 372.5,488.9 375.2,483.9 380.0,482.5 385.4,478.7 392.4,478.1 397.5,473.8 403.6,475.7 410.0,475.0 417.1,475.6 422.9,480.4 430.0,481.3 436.7,481.8 443.2,478.8 450.0,480.0 452.4,475.8 457.3,474.0 460.0,470.0 464.5,467.8 465.8,462.4 470.0,460.0 474.8,457.8 480.0,457.5 480.0,450.4 477.5,443.8 483.3,440.4 490.0,440.0 496.8,439.9 503.1,436.4 510.0,437.0 516.8,439.0 522.1,444.1 528.8,446.3 528.5,453.4 531.3,460.0 527.5,464.5 522.5,467.5 521.2,472.5 522.5,477.5 518.0,480.7 512.1,479.6 507.5,482.5 502.6,486.9 500.4,493.5 495.0,497.5 497.9,503.9 497.4,511.1 500.0,517.5 502.1,522.7 507.7,525.0 510.0,530.0 504.2,534.0 497.5,536.3 491.2,537.2 486.2,541.3 480.0,542.5 480.3,549.1 477.5,555.0 474.9,560.6 475.7,567.1 472.5,572.5 471.1,577.3 466.7,580.3 465.0,585.0 458.4,586.0 453.5,591.2 446.6,591.6 441.6,596.5 435.0,597.5 430.2,599.7 425.0,600.0 421.4,604.4 420.0,610.0 413.7,613.2 406.4,612.1 400.0,615.0 393.7,616.1 388.5,620.5 381.6,619.8 376.3,623.9 370.0,625.0 374.3,627.9 375.9,633.2 380.0,636.3 376.8,640.3 377.9,645.9 375.0,650.0 377.2,656.1 377.5,662.5 372.2,665.3 369.1,670.8 363.0,672.6 360.3,678.5 355.0,681.3 349.6,679.1 347.0,673.4 341.3,671.7 337.5,667.5 333.8,666.5 330.0,667.5 325.8,672.8 319.4,675.5 316.1,681.8 310.0,685.0 309.7,690.4 313.8,694.7 313.8,700.0 309.0,704.5 302.2,706.2 298.6,712.3 292.5,715.0 286.1,712.1 278.9,712.6 272.5,710.0 271.4,715.7 266.4,719.4 265.0,725.0 259.6,726.6 255.0,730.0 249.6,729.3 245.3,725.4 239.4,725.9 235.0,722.5 231.2,725.4 230.0,730.0 224.9,734.5 217.9,736.2 213.8,742.3 207.5,745.0 202.5,747.3 199.8,752.4 195.0,755.0 193.0,760.9 187.3,764.3 185.0,770.0 184.0,776.2 185.0,782.5 183.4,785.9 180.0,787.5 178.4,793.1 180.0,798.8 173.3,799.8 166.7,797.2 160.0,798.8 155.7,794.6 150.0,792.5 144.2,790.9 140.7,785.4 134.5,784.3 130.8,779.1 125.0,777.5 120.6,772.6 114.0,770.4 110.0,765.0 106.4,760.6 105.0,755.0 99.6,751.8 93.0,752.9 87.5,750.0 85.7,744.3 87.4,738.1 85.0,732.5 89.5,731.1 92.5,727.5 86.5,724.6 83.3,718.2 77.5,715.0 76.8,708.1 72.6,702.1 72.5,695.0 72.5,689.7 75.0,685.0 72.8,680.5 67.4,679.2 65.0,675.0 63.2,670.2 64.9,664.7 62.5,660.0 66.1,655.6 67.5,650.0 62.5,646.0 60.0,640.0 58.4,634.6 53.6,630.7 52.5,625.0 53.9,619.4 57.5,615.0 58.2,609.7 54.6,605.2 55.0,600.0 51.6,595.4 50.0,590.0 50.0,583.1 46.6,576.8" fill="none" stroke="#7a7a7a" stroke-width="2.4" stroke-linejoin="round"/>
<path d="M80.0 632.5C83.3 632.3 93.8 631.1 100.0 631.3C106.2 631.5 114.6 633.4 117.5 633.8M130.0 642.5C130.4 643.8 133.3 647.5 132.5 650.0C131.7 652.5 127.1 655.2 125.0 657.5C122.9 659.8 120.8 662.8 120.0 663.8M212.5 582.5C215.8 583.3 226.2 585.4 232.5 587.5C238.8 589.6 243.8 593.4 250.0 595.0C256.2 596.6 263.0 597.7 270.0 597.0C277.0 596.3 285.3 593.8 292.0 591.0C298.7 588.2 305.3 583.5 310.0 580.0C314.7 576.5 315.8 575.0 320.0 570.0C324.2 565.0 329.6 557.1 335.0 550.0C340.4 542.9 347.5 532.9 352.5 527.5C357.5 522.1 359.6 520.4 365.0 517.5C370.4 514.6 378.3 513.8 385.0 510.0C391.7 506.2 396.7 498.8 405.0 495.0C413.3 491.2 424.6 489.2 435.0 487.5C445.4 485.8 459.6 486.7 467.5 485.0C475.4 483.3 476.2 482.1 482.5 477.5C488.8 472.9 501.2 460.8 505.0 457.5M215.0 617.5C219.2 616.7 232.5 613.1 240.0 612.5C247.5 611.9 254.2 613.0 260.0 613.8C265.8 614.6 270.8 616.3 275.0 617.5C279.2 618.7 283.3 620.4 285.0 621.0M298.0 623.8C302.5 624.0 316.8 624.8 325.0 625.0C333.2 625.2 343.3 626.0 347.5 625.0C351.7 624.0 345.9 620.2 350.0 618.8C354.1 617.4 368.3 616.9 372.0 616.5" fill="none" stroke="#4088F0" stroke-width="1.4"/>
<path d="M117.5 637.5C118.8 636.2 121.2 632.5 125.0 630.0C128.8 627.5 137.1 625.8 140.0 622.5C142.9 619.2 141.2 613.8 142.5 610.0C143.8 606.2 144.6 603.3 147.5 600.0C150.4 596.7 155.4 592.9 160.0 590.0C164.6 587.1 170.8 584.4 175.0 582.5C179.2 580.6 180.8 579.0 185.0 578.8C189.2 578.6 195.8 580.5 200.0 581.3C204.2 582.1 207.7 582.3 210.0 583.8C212.3 585.2 213.0 587.3 214.0 590.0C215.0 592.7 215.8 596.2 216.0 600.0C216.2 603.8 215.6 608.3 215.0 612.5C214.4 616.7 215.0 621.7 212.5 625.0C210.0 628.3 206.2 630.4 200.0 632.5C193.8 634.6 185.0 636.2 175.0 637.5C165.0 638.8 149.6 640.0 140.0 640.0C130.4 640.0 121.2 637.9 117.5 637.5" fill="#0A5AE6"/>
<path d="M283 613Q290 611 297 616Q300 624 295 631Q288 633.5 281 629Q285 625 285 620Z" fill="#0A5AE6"/>
<text x="145" y="585.5" font-size="13.8" fill="#4FAA20" transform="rotate(-45 145 585.5)">1240</text>
<text x="166" y="648" font-size="13.8" fill="#4FAA20" text-anchor="middle" transform="rotate(184 166 648)">1240</text>
<text x="235" y="650.5" font-size="13.8" fill="#4FAA20" text-anchor="middle" transform="rotate(176 235 650.5)">1260</text>
<text x="154" y="675.5" font-size="13.8" fill="#4FAA20" text-anchor="middle" transform="rotate(188 154 675.5)">1280</text>
<text x="129" y="695" font-size="13.8" fill="#4FAA20" text-anchor="middle" transform="rotate(198 129 695)">1300</text>
<text x="99" y="716" font-size="13.8" fill="#4FAA20" text-anchor="middle" transform="rotate(203 99 716)">1320</text>
<text x="154" y="776" font-size="13.8" fill="#4FAA20" text-anchor="middle" transform="rotate(184 154 776)">1340</text>
<text x="382.5" y="497" font-size="13.8" fill="#4FAA20" text-anchor="middle" transform="rotate(18 382.5 497)">1360</text>
<text x="375" y="513" font-size="13.8" fill="#4FAA20" text-anchor="middle" transform="rotate(24 375 513)">1320</text>
<text x="437" y="522" font-size="13.8" fill="#4FAA20" text-anchor="middle" transform="rotate(66 437 522)">1380</text>
<text x="398" y="566" font-size="13.8" fill="#4FAA20" text-anchor="middle" transform="rotate(76 398 566)">1300</text>
<text x="361" y="584" font-size="13.8" fill="#4FAA20" text-anchor="middle" transform="rotate(60 361 584)">1280</text>
<text x="322" y="592" font-size="13.8" fill="#4FAA20" text-anchor="middle" transform="rotate(8 322 592)">1260</text>
<text x="345.5" y="649.5" font-size="13.8" fill="#4FAA20" text-anchor="middle" transform="rotate(166 345.5 649.5)">1280</text>
<rect x="185.3" y="573.5" width="7" height="7" fill="#FF9A0A" stroke="#FFD9A0" stroke-width="0.5"/><rect x="193.3" y="573.0" width="7" height="7" fill="#FF9A0A" stroke="#FFD9A0" stroke-width="0.5"/><rect x="203.3" y="576.5" width="7" height="7" fill="#FF9A0A" stroke="#FFD9A0" stroke-width="0.5"/><rect x="175.3" y="577.0" width="7" height="7" fill="#FF9A0A" stroke="#FFD9A0" stroke-width="0.5"/><rect x="167.8" y="580.8" width="7" height="7" fill="#FF9A0A" stroke="#FFD9A0" stroke-width="0.5"/><rect x="160.8" y="584.0" width="7" height="7" fill="#FF9A0A" stroke="#FFD9A0" stroke-width="0.5"/><rect x="155.8" y="588.5" width="7" height="7" fill="#FF9A0A" stroke="#FFD9A0" stroke-width="0.5"/><rect x="127.80000000000001" y="636.0" width="8" height="8" fill="#FF9A0A" stroke="#FFD9A0" stroke-width="0.5"/><rect x="156.5" y="637.3" width="8" height="8" fill="#FF9A0A" stroke="#FFD9A0" stroke-width="0.5"/><rect x="166.0" y="636.8" width="8" height="8" fill="#FF9A0A" stroke="#FFD9A0" stroke-width="0.5"/><rect x="174.3" y="635.5" width="8" height="8" fill="#FF9A0A" stroke="#FFD9A0" stroke-width="0.5"/><rect x="182.3" y="634.8" width="8" height="8" fill="#FF9A0A" stroke="#FFD9A0" stroke-width="0.5"/><rect x="276.5" y="625.5" width="8" height="8" fill="#FF9A0A" stroke="#FFD9A0" stroke-width="0.5"/><circle cx="205" cy="640" r="5.5" fill="#1587B5" stroke="#3FA3CC" stroke-width="0.5"/><circle cx="211.3" cy="636.3" r="5" fill="#1587B5" stroke="#3FA3CC" stroke-width="0.5"/><circle cx="216.3" cy="635" r="4.5" fill="#1587B5" stroke="#3FA3CC" stroke-width="0.5"/><circle cx="292" cy="591.3" r="5.5" fill="#1587B5" stroke="#3FA3CC" stroke-width="0.5"/><circle cx="468" cy="652" r="3" fill="#1587B5" stroke="#3FA3CC" stroke-width="0.5"/><rect x="251.3" y="605.0" width="10" height="10" fill="#A80000"/><rect x="437.0" y="667.5" width="10" height="10" fill="#A80000"/><path d="M274.5 622.5L279.5 613.5L284.5 622.5Z" fill="#0A8A12" stroke="#E8F5E0" stroke-width="0.6"/><path d="M268.0 600.6L272.0 593.4L276.0 600.6Z" fill="#0A8A12" stroke="#E8F5E0" stroke-width="0.6"/><path d="M273.0 598.1L277.0 590.9L281.0 598.1Z" fill="#0A8A12" stroke="#E8F5E0" stroke-width="0.6"/><path d="M279.0 596.1L283.0 588.9L287.0 596.1Z" fill="#0A8A12" stroke="#E8F5E0" stroke-width="0.6"/><path d="M484.5 477.5L489.5 468.5L494.5 477.5Z" fill="#0A8A12" stroke="#E8F5E0" stroke-width="0.6"/><path d="M493.8 468.3L498.8 459.3L503.8 468.3Z" fill="#0A8A12" stroke="#E8F5E0" stroke-width="0.6"/><path d="M470.5 648.3L475.5 639.3L480.5 648.3Z" fill="#0A8A12" stroke="#E8F5E0" stroke-width="0.6"/><path d="M503.8 700.0L508.8 691.0L513.8 700.0Z" fill="#0A8A12" stroke="#E8F5E0" stroke-width="0.6"/><path d="M431.3 727.0L436.3 718.0L441.3 727.0Z" fill="#0A8A12" stroke="#E8F5E0" stroke-width="0.6"/><circle cx="517.5" cy="655" r="4.5" fill="#BFD6FB" stroke="#8C9CB8" stroke-width="0.6"/><circle cx="454.3" cy="713" r="5" fill="#fff" stroke="#222" stroke-width="0.8"/><path d="M454.3 708A5 5 0 0 1 454.3 718Z" fill="#222"/>
<text x="6.3" y="623.8" font-size="22" font-weight="bold" fill="#0A3296" textLength="95" lengthAdjust="spacingAndGlyphs">R. Haolai</text>
<text x="20" y="665.5" font-size="22" font-weight="bold" fill="#0A3296" textLength="97.5" lengthAdjust="spacingAndGlyphs">R.Liangzi</text>
<text x="135" y="606.8" font-size="22" font-weight="bold" fill="#0A3CAA" textLength="88.6" lengthAdjust="spacingAndGlyphs">Dalinour</text>
<text x="156.8" y="629.5" font-size="22" font-weight="bold" fill="#0A3CAA" textLength="50" lengthAdjust="spacingAndGlyphs">Lake</text>
<text x="324" y="561.5" font-size="22" font-weight="bold" fill="#0A3296" textLength="107" lengthAdjust="spacingAndGlyphs" transform="rotate(-24.8 324 561.5)">R. Gunger</text>
<text x="311.3" y="617" font-size="22" font-weight="bold" fill="#0A3296" textLength="80" lengthAdjust="spacingAndGlyphs">R. Shali</text>
<text x="389.5" y="716" font-size="22" font-weight="bold" fill="#0A3296" textLength="135" lengthAdjust="spacingAndGlyphs" transform="rotate(-25.1 389.5 716)">R. Xilamulun</text>
<text x="14.5" y="435" font-size="18.5" font-weight="bold" textLength="71.8" lengthAdjust="spacingAndGlyphs">Legend</text>
<rect x="17" y="442.5" width="43.8" height="23" fill="#CDFABE"/>
<text x="68.8" y="459.3" font-size="20" textLength="97.5" lengthAdjust="spacingAndGlyphs">Pore water</text>
<path d="M191.3 451.3C196 448 200 444.5 205 445.2C211 446 213 454 222 455.2C228 456 234 455 240 454.5" fill="none" stroke="#2A6E18" stroke-width="1.3"/>
<text x="246.3" y="459.3" font-size="20" textLength="101.2" lengthAdjust="spacingAndGlyphs">Water table</text>
<rect x="17" y="470" width="43.8" height="23" fill="#FFD082"/>
<text x="67" y="488.8" font-size="20" textLength="273" lengthAdjust="spacingAndGlyphs">Basalt cave fissure-pore water</text>
<rect x="17" y="498" width="43.8" height="23.2" fill="#FFBEBE"/>
<text x="67.5" y="518" font-size="20" textLength="168.8" lengthAdjust="spacingAndGlyphs">Fissure-pore water</text>
</g>
<rect x="481.3" y="414" width="50.5" height="44.8" fill="#fff"/>
<text x="480.1" y="448.8" font-size="41.5" textLength="48.5" lengthAdjust="spacingAndGlyphs">(c)</text>
<rect x="2.8" y="413.1" width="530" height="393" fill="none" stroke="#000" stroke-width="1.7"/>
</g>
<g id="panel-d">
<rect x="547" y="413.5" width="497.5" height="392.5" fill="#fff" stroke="#000" stroke-width="3"/>
<rect x="611.25" y="732.99" width="12.5" height="22.51" fill="#FFB052"/>
<rect x="623.75" y="754.51" width="12.5" height="0.99" fill="#8FCDF6"/>
<rect x="642.10" y="717.52" width="12.5" height="37.98" fill="#FFB052"/>
<rect x="654.60" y="753.02" width="12.5" height="2.48" fill="#8FCDF6"/>
<rect x="672.95" y="672.79" width="12.5" height="82.71" fill="#FFB052"/>
<rect x="685.45" y="746.97" width="12.5" height="8.53" fill="#8FCDF6"/>
<rect x="703.80" y="593.07" width="12.5" height="162.44" fill="#FFB052"/>
<rect x="716.30" y="741.72" width="12.5" height="13.78" fill="#8FCDF6"/>
<rect x="734.65" y="529.60" width="12.5" height="225.90" fill="#FFB052"/>
<rect x="747.15" y="721.98" width="12.5" height="33.52" fill="#8FCDF6"/>
<rect x="765.50" y="553.20" width="12.5" height="202.30" fill="#FFB052"/>
<rect x="778.00" y="699.77" width="12.5" height="55.73" fill="#8FCDF6"/>
<rect x="796.35" y="578.59" width="12.5" height="176.91" fill="#FFB052"/>
<rect x="808.85" y="663.27" width="12.5" height="92.23" fill="#8FCDF6"/>
<rect x="827.20" y="591.28" width="12.5" height="164.22" fill="#FFB052"/>
<rect x="839.70" y="711.47" width="12.5" height="44.03" fill="#8FCDF6"/>
<rect x="858.05" y="621.03" width="12.5" height="134.47" fill="#FFB052"/>
<rect x="870.55" y="730.21" width="12.5" height="25.29" fill="#8FCDF6"/>
<rect x="888.90" y="662.78" width="12.5" height="92.72" fill="#FFB052"/>
<rect x="901.40" y="738.05" width="12.5" height="17.45" fill="#8FCDF6"/>
<rect x="919.75" y="712.26" width="12.5" height="43.24" fill="#FFB052"/>
<rect x="932.25" y="750.05" width="12.5" height="5.45" fill="#8FCDF6"/>
<rect x="950.60" y="734.97" width="12.5" height="20.53" fill="#FFB052"/>
<rect x="963.10" y="753.72" width="12.5" height="1.79" fill="#8FCDF6"/>
<path d="M608 458H978.7V755.5H608Z" fill="none" stroke="#222" stroke-width="1"/>
<path d="M608 755.5h5M608 656.3h5M608 557.2h5M608 458.0h5M608 705.9h3M608 606.8h3M608 507.6h3M978.7 755.5h-5M978.7 705.9h-5M978.7 656.3h-5M978.7 606.8h-5M978.7 557.2h-5M978.7 507.6h-5M978.7 458.0h-5M978.7 730.7h-3M978.7 681.1h-3M978.7 631.5h-3M978.7 582.0h-3M978.7 532.4h-3M978.7 482.8h-3M623.8 755.5v-4M654.6 755.5v-4M685.5 755.5v-4M716.3 755.5v-4M747.1 755.5v-4M778.0 755.5v-4M808.9 755.5v-4M839.7 755.5v-4M870.5 755.5v-4M901.4 755.5v-4M932.2 755.5v-4M963.1 755.5v-4" stroke="#222" stroke-width="1" fill="none"/>
<polyline points="623.8,700 654.6,678.2 685.5,633.5 716.3,579.5 747.1,540.5 778.0,512.5 808.9,500.7 839.7,510 870.5,542 901.4,587.2 932.2,642.7 963.1,682" fill="none" stroke="#B3283A" stroke-width="1.6"/>
<circle cx="623.8" cy="700" r="3.6" fill="#fff" stroke="#B3283A" stroke-width="1.1"/>
<circle cx="654.6" cy="678.2" r="3.6" fill="#fff" stroke="#B3283A" stroke-width="1.1"/>
<circle cx="685.5" cy="633.5" r="3.6" fill="#fff" stroke="#B3283A" stroke-width="1.1"/>
<circle cx="716.3" cy="579.5" r="3.6" fill="#fff" stroke="#B3283A" stroke-width="1.1"/>
<circle cx="747.1" cy="540.5" r="3.6" fill="#fff" stroke="#B3283A" stroke-width="1.1"/>
<circle cx="778.0" cy="512.5" r="3.6" fill="#fff" stroke="#B3283A" stroke-width="1.1"/>
<circle cx="808.9" cy="500.7" r="3.6" fill="#fff" stroke="#B3283A" stroke-width="1.1"/>
<circle cx="839.7" cy="510" r="3.6" fill="#fff" stroke="#B3283A" stroke-width="1.1"/>
<circle cx="870.5" cy="542" r="3.6" fill="#fff" stroke="#B3283A" stroke-width="1.1"/>
<circle cx="901.4" cy="587.2" r="3.6" fill="#fff" stroke="#B3283A" stroke-width="1.1"/>
<circle cx="932.2" cy="642.7" r="3.6" fill="#fff" stroke="#B3283A" stroke-width="1.1"/>
<circle cx="963.1" cy="682" r="3.6" fill="#fff" stroke="#B3283A" stroke-width="1.1"/>
<text x="600" y="755.5" font-size="15.5" text-anchor="middle" transform="rotate(-90 600 755.5)">0</text>
<text x="600" y="656.3" font-size="15.5" text-anchor="middle" transform="rotate(-90 600 656.3)">100</text>
<text x="600" y="557.2" font-size="15.5" text-anchor="middle" transform="rotate(-90 600 557.2)">200</text>
<text x="600" y="458.0" font-size="15.5" text-anchor="middle" transform="rotate(-90 600 458.0)">300</text>
<text x="577.8" y="606" font-size="20" text-anchor="middle" textLength="286" lengthAdjust="spacingAndGlyphs" transform="rotate(-90 577.8 606)">Evaporation / Precipitation (mm)</text>
<text x="999.5" y="752.5" font-size="15.5" text-anchor="middle" transform="rotate(-90 999.5 752.5)">-30</text>
<text x="999.5" y="702.9" font-size="15.5" text-anchor="middle" transform="rotate(-90 999.5 702.9)">-20</text>
<text x="999.5" y="653.3" font-size="15.5" text-anchor="middle" transform="rotate(-90 999.5 653.3)">-10</text>
<text x="999.5" y="603.8" font-size="15.5" text-anchor="middle" transform="rotate(-90 999.5 603.8)">0</text>
<text x="999.5" y="554.2" font-size="15.5" text-anchor="middle" transform="rotate(-90 999.5 554.2)">10</text>
<text x="999.5" y="504.6" font-size="15.5" text-anchor="middle" transform="rotate(-90 999.5 504.6)">20</text>
<text x="999.5" y="455.0" font-size="15.5" text-anchor="middle" transform="rotate(-90 999.5 455.0)">30</text>
<text x="1021.7" y="606" font-size="19" text-anchor="middle" textLength="148" lengthAdjust="spacingAndGlyphs" transform="rotate(-90 1021.7 606)" style="font-family:&quot;Liberation Sans&quot;,&quot;Noto Sans CJK SC&quot;,sans-serif">Temperature(℃)</text>
<text x="623.8" y="774" font-size="15" text-anchor="middle">J</text>
<text x="654.6" y="774" font-size="15" text-anchor="middle">F</text>
<text x="685.5" y="774" font-size="15" text-anchor="middle">M</text>
<text x="716.3" y="774" font-size="15" text-anchor="middle">A</text>
<text x="747.1" y="774" font-size="15" text-anchor="middle">M</text>
<text x="778.0" y="774" font-size="15" text-anchor="middle">J</text>
<text x="808.9" y="774" font-size="15" text-anchor="middle">J</text>
<text x="839.7" y="774" font-size="15" text-anchor="middle">A</text>
<text x="870.5" y="774" font-size="15" text-anchor="middle">S</text>
<text x="901.4" y="774" font-size="15" text-anchor="middle">O</text>
<text x="932.2" y="774" font-size="15" text-anchor="middle">N</text>
<text x="963.1" y="774" font-size="15" text-anchor="middle">D</text>
<text x="790" y="798.5" font-size="19" text-anchor="middle">Month</text>
<rect x="608" y="431.8" width="95.7" height="82" fill="#fff" stroke="#000" stroke-width="1"/>
<text x="609.8" y="452.5" font-size="20" font-weight="bold" textLength="72.5" lengthAdjust="spacingAndGlyphs">Legend</text>
<rect x="610.7" y="461.7" width="36.3" height="17.8" fill="#8FCDF6"/>
<rect x="610.7" y="481.7" width="36.3" height="17.8" fill="#FFB052"/>
<path d="M610.7 506.2H648.7" stroke="#B3283A" stroke-width="1.5"/>
<circle cx="629.5" cy="506.2" r="3.8" fill="#fff" stroke="#B3283A" stroke-width="1.1"/>
<text x="652.3" y="476.2" font-size="16">P</text>
<text x="652.3" y="496.5" font-size="16">E</text>
<text x="655.5" y="512.5" font-size="16">T</text>
<rect x="996" y="415" width="47" height="48" fill="#fff"/>
<text x="995" y="453.8" font-size="41.5" textLength="51.2" lengthAdjust="spacingAndGlyphs">(d)</text>
</g>
<defs><linearGradient id="elev" x1="0" y1="0" x2="0" y2="1">
<stop offset="0" stop-color="#FFF6F2"/>
<stop offset="0.035" stop-color="#FBDCCB"/>
<stop offset="0.075" stop-color="#E9A988"/>
<stop offset="0.115" stop-color="#C35A2B"/>
<stop offset="0.145" stop-color="#AC3404"/>
<stop offset="0.19" stop-color="#B64616"/>
<stop offset="0.28" stop-color="#C5633A"/>
<stop offset="0.38" stop-color="#D4875C"/>
<stop offset="0.46" stop-color="#E0A67C"/>
<stop offset="0.49" stop-color="#E6B88A"/>
<stop offset="0.56" stop-color="#EACF94"/>
<stop offset="0.63" stop-color="#EAE29C"/>
<stop offset="0.69" stop-color="#E3F1A3"/>
<stop offset="0.75" stop-color="#C8E094"/>
<stop offset="0.82" stop-color="#A9CF82"/>
<stop offset="0.875" stop-color="#9FCB86"/>
<stop offset="0.94" stop-color="#ABD7AE"/>
<stop offset="1" stop-color="#B8E6E6"/>
</linearGradient></defs>
<g id="colorbar">
<rect x="1066.5" y="466.8" width="64.8" height="330" fill="url(#elev)"/>
<path d="M1131.5 463h4M1131.5 626.3h5M1131.5 797h5" stroke="#999" stroke-width="1"/>
<text x="1050.5" y="446.6" font-size="22" font-weight="bold" textLength="141.5" lengthAdjust="spacingAndGlyphs">Elevation (m)</text>
<text x="1144.5" y="479.4" font-size="24">2215</text>
<text x="1152" y="804" font-size="23">200</text>
</g>
<g id="legend-bottom">
<text x="7" y="829" font-size="21.5" font-weight="bold" textLength="239" lengthAdjust="spacingAndGlyphs">Legend for (b) and (c)</text>
<rect x="41.8" y="841.8" width="18.2" height="17.8" fill="#FF9A0A"/>
<text x="75" y="861" font-size="22" textLength="47" lengthAdjust="spacingAndGlyphs">Lake</text>
<path d="M135 856.3L144 841L153 856.3Z" fill="#0A8A12"/>
<text x="161" y="858.8" font-size="22" textLength="51.5" lengthAdjust="spacingAndGlyphs">River</text>
<rect x="227.8" y="840.3" width="18.7" height="17.7" fill="#FACB85" stroke="#DE8E3C" stroke-width="1"/><path d="M227.8 840.3L246.5 858M246.5 840.3L227.8 858" stroke="#DE8E3C" stroke-width="0.9"/>
<text x="257.5" y="861" font-size="22" textLength="96.2" lengthAdjust="spacingAndGlyphs">Reservoir</text>
<circle cx="382.5" cy="850" r="9" fill="#BFD6FB" stroke="#9AA8C0" stroke-width="0.7"/>
<text x="397.5" y="860.5" font-size="22" textLength="64.5" lengthAdjust="spacingAndGlyphs">Spring</text>
<rect x="477.5" y="840" width="17.5" height="17.5" fill="#A80000"/>
<text x="502" y="858.8" font-size="22" textLength="103" lengthAdjust="spacingAndGlyphs">Soil profile</text>
<rect x="620.8" y="840" width="48.2" height="24.2" fill="#EBEBEB" stroke="#444" stroke-width="1.3" stroke-dasharray="7 4"/>
<text x="675" y="859.5" font-size="22" textLength="60" lengthAdjust="spacingAndGlyphs">Basalt</text>
<path d="M745.30 836.3V860M750.05 836.3V860M754.80 836.3V860M759.55 836.3V860M764.30 836.3V860M769.05 836.3V860M773.80 836.3V860M778.55 836.3V860M783.30 836.3V860M788.05 836.3V860M792.80 836.3V860" stroke="#CC5A5A" stroke-width="1"/>
<text x="799.5" y="859.5" font-size="22" textLength="58.5" lengthAdjust="spacingAndGlyphs">Loess</text>
<rect x="868" y="838.5" width="17.8" height="17.5" fill="#fff" stroke="#C84646" stroke-width="1"/>
<text x="901.6" y="858" font-size="22" textLength="44" lengthAdjust="spacingAndGlyphs">SRT</text>
<circle cx="51.6" cy="906.3" r="8.6" fill="#fff" stroke="#000" stroke-width="1"/><path d="M51.6 897.7A8.6 8.6 0 0 1 51.6 914.9Z" fill="#000"/>
<text x="72.5" y="916.3" font-size="22" textLength="190" lengthAdjust="spacingAndGlyphs">Hydrological station</text>
<text x="280" y="898.8" font-size="15.5">A</text>
<path d="M277 902.5L328.8 920.8" stroke="#000" stroke-width="1.2"/>
<text x="330" y="915" font-size="19">A'</text>
<text x="357.5" y="916.3" font-size="22" textLength="246.3" lengthAdjust="spacingAndGlyphs">Hydrogeological section</text>
<path d="M618.8 907.5C625 904 630 899.5 636 900.5C644 902 647 911.5 656 912.8C660 913.3 664 912.5 667.5 912" fill="none" stroke="#666" stroke-width="1.5"/>
<text x="677.5" y="915.5" font-size="22" textLength="47.5" lengthAdjust="spacingAndGlyphs">Fault</text>
<pattern id="dotsLg" x="742.5" y="895.5" width="9.4" height="10.4" patternUnits="userSpaceOnUse"><rect x="1" y="1.2" width="1.9" height="1.9" fill="#2a2a2a"/><rect x="5.7" y="6.4" width="1.9" height="1.9" fill="#2a2a2a"/></pattern>
<rect x="742.5" y="896" width="45.6" height="23" fill="url(#dotsLg)"/>
<text x="793.8" y="915.5" font-size="22" textLength="64.2" lengthAdjust="spacingAndGlyphs">Desert</text>
<text x="963.6" y="840.3" font-size="22.5" font-weight="bold" textLength="204.2" lengthAdjust="spacingAndGlyphs">The well depth (m)</text>
<circle cx="1006" cy="863" r="12.4" fill="#1587B5"/>
<circle cx="1006" cy="890.2" r="9.5" fill="#1587B5"/>
<circle cx="1006" cy="910.8" r="6.2" fill="#1587B5"/>
<text x="1030.8" y="870.3" font-size="17.5" textLength="45.2" lengthAdjust="spacingAndGlyphs">&gt;100</text>
<text x="1025" y="896" font-size="17.5" textLength="55" lengthAdjust="spacingAndGlyphs">40-100</text>
<text x="1036" y="918.6" font-size="17.5" textLength="35" lengthAdjust="spacingAndGlyphs">&lt;40</text>
<text x="1085" y="891.4" font-size="22.5" textLength="41.4" lengthAdjust="spacingAndGlyphs">Well</text>
</g>
</svg></body></html>
